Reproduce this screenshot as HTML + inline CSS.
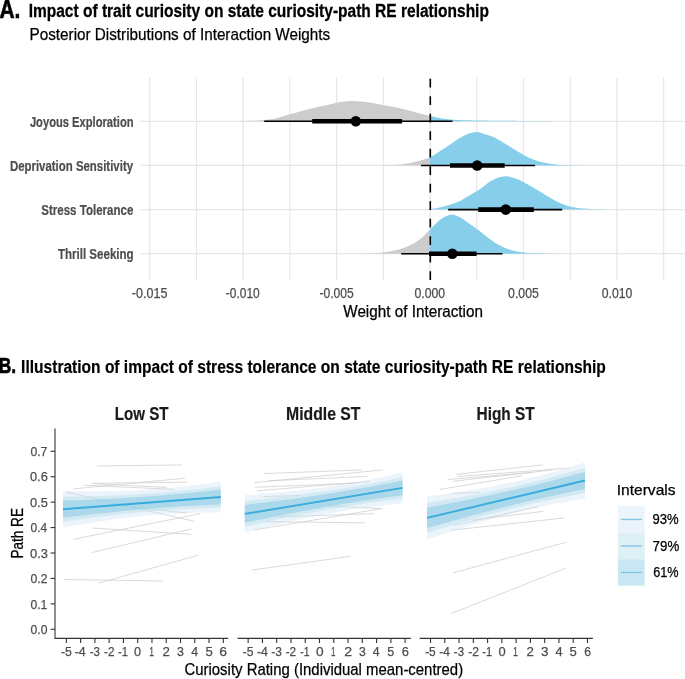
<!DOCTYPE html>
<html><head><meta charset="utf-8"><style>
html,body{margin:0;padding:0;background:#fff;}
svg{display:block;filter:blur(0.35px);font-family:"Liberation Sans", sans-serif;}
</style></head><body>
<svg width="685" height="679" viewBox="0 0 685 679">
<rect width="685" height="679" fill="#fff"/>
<text x="-0.50" y="17.50" font-size="25.0" font-weight="bold" fill="#000" text-anchor="start" stroke="#000" stroke-width="0.6" textLength="20.90" lengthAdjust="spacingAndGlyphs" >A.</text>
<text x="28.64" y="17.20" font-size="19.1" font-weight="bold" fill="#000" text-anchor="start" stroke="#000" stroke-width="0.3" textLength="460.27" lengthAdjust="spacingAndGlyphs" >Impact of trait curiosity on state curiosity-path RE relationship</text>
<text x="29.59" y="39.90" font-size="17.0" font-weight="normal" fill="#000" text-anchor="start" stroke="#000" stroke-width="0.25" textLength="300.61" lengthAdjust="spacingAndGlyphs" >Posterior Distributions of Interaction Weights</text>
<line x1="149.70" y1="77.6" x2="149.70" y2="280.0" stroke="#E6E6E6" stroke-width="1.3"/>
<line x1="196.43" y1="77.6" x2="196.43" y2="280.0" stroke="#E6E6E6" stroke-width="1.1"/>
<line x1="243.15" y1="77.6" x2="243.15" y2="280.0" stroke="#E6E6E6" stroke-width="1.3"/>
<line x1="289.88" y1="77.6" x2="289.88" y2="280.0" stroke="#E6E6E6" stroke-width="1.1"/>
<line x1="336.60" y1="77.6" x2="336.60" y2="280.0" stroke="#E6E6E6" stroke-width="1.3"/>
<line x1="383.32" y1="77.6" x2="383.32" y2="280.0" stroke="#E6E6E6" stroke-width="1.1"/>
<line x1="430.05" y1="77.6" x2="430.05" y2="280.0" stroke="#E6E6E6" stroke-width="1.3"/>
<line x1="476.78" y1="77.6" x2="476.78" y2="280.0" stroke="#E6E6E6" stroke-width="1.1"/>
<line x1="523.50" y1="77.6" x2="523.50" y2="280.0" stroke="#E6E6E6" stroke-width="1.3"/>
<line x1="570.23" y1="77.6" x2="570.23" y2="280.0" stroke="#E6E6E6" stroke-width="1.1"/>
<line x1="616.95" y1="77.6" x2="616.95" y2="280.0" stroke="#E6E6E6" stroke-width="1.3"/>
<line x1="663.67" y1="77.6" x2="663.67" y2="280.0" stroke="#E6E6E6" stroke-width="1.1"/>
<line x1="140.5" y1="121.3" x2="685.5" y2="121.3" stroke="#E6E6E6" stroke-width="1.3"/>
<line x1="140.5" y1="165.45" x2="685.5" y2="165.45" stroke="#E6E6E6" stroke-width="1.3"/>
<line x1="140.5" y1="209.6" x2="685.5" y2="209.6" stroke="#E6E6E6" stroke-width="1.3"/>
<line x1="140.5" y1="253.7" x2="685.5" y2="253.7" stroke="#E6E6E6" stroke-width="1.3"/>
<defs>
<clipPath id="cl"><rect x="0" y="0" width="430.05" height="300"/></clipPath>
<clipPath id="cr"><rect x="430.05" y="0" width="400" height="300"/></clipPath>
</defs>
<path d="M230.00,121.30 L230.00,121.30 L230.50,121.30 L231.00,121.30 L231.50,121.29 L232.00,121.29 L232.50,121.28 L233.00,121.28 L233.50,121.27 L234.00,121.27 L234.50,121.26 L235.00,121.25 L235.50,121.24 L236.00,121.23 L236.50,121.22 L237.00,121.21 L237.50,121.20 L238.00,121.19 L238.50,121.18 L239.00,121.16 L239.50,121.15 L240.00,121.14 L240.50,121.12 L241.00,121.11 L241.50,121.09 L242.00,121.08 L242.50,121.06 L243.00,121.05 L243.50,121.03 L244.00,121.01 L244.50,121.00 L245.00,120.98 L245.50,120.96 L246.00,120.94 L246.50,120.93 L247.00,120.91 L247.50,120.89 L248.00,120.87 L248.50,120.86 L249.00,120.84 L249.50,120.82 L250.00,120.80 L250.50,120.78 L251.00,120.76 L251.50,120.74 L252.00,120.72 L252.50,120.70 L253.00,120.68 L253.50,120.65 L254.00,120.63 L254.50,120.61 L255.00,120.58 L255.50,120.55 L256.00,120.53 L256.50,120.50 L257.00,120.47 L257.50,120.44 L258.00,120.41 L258.50,120.38 L259.00,120.35 L259.50,120.32 L260.00,120.28 L260.50,120.25 L261.00,120.21 L261.50,120.18 L262.00,120.14 L262.50,120.10 L263.00,120.06 L263.50,120.02 L264.00,119.98 L264.50,119.94 L265.00,119.89 L265.50,119.85 L266.00,119.80 L266.50,119.76 L267.00,119.71 L267.50,119.66 L268.00,119.61 L268.50,119.56 L269.00,119.51 L269.50,119.45 L270.00,119.40 L270.50,119.34 L271.00,119.28 L271.50,119.20 L272.00,119.13 L272.50,119.04 L273.00,118.95 L273.50,118.86 L274.00,118.76 L274.50,118.65 L275.00,118.54 L275.50,118.43 L276.00,118.31 L276.50,118.19 L277.00,118.06 L277.50,117.93 L278.00,117.80 L278.50,117.66 L279.00,117.52 L279.50,117.38 L280.00,117.24 L280.50,117.09 L281.00,116.94 L281.50,116.80 L282.00,116.65 L282.50,116.50 L283.00,116.34 L283.50,116.19 L284.00,116.04 L284.50,115.89 L285.00,115.74 L285.50,115.59 L286.00,115.44 L286.50,115.29 L287.00,115.14 L287.50,115.00 L288.00,114.85 L288.50,114.71 L289.00,114.57 L289.50,114.43 L290.00,114.30 L290.50,114.17 L291.00,114.03 L291.50,113.90 L292.00,113.76 L292.50,113.62 L293.00,113.49 L293.50,113.35 L294.00,113.21 L294.50,113.07 L295.00,112.93 L295.50,112.78 L296.00,112.64 L296.50,112.50 L297.00,112.36 L297.50,112.21 L298.00,112.07 L298.50,111.93 L299.00,111.79 L299.50,111.64 L300.00,111.50 L300.50,111.36 L301.00,111.21 L301.50,111.07 L302.00,110.93 L302.50,110.79 L303.00,110.65 L303.50,110.51 L304.00,110.37 L304.50,110.24 L305.00,110.10 L305.50,109.96 L306.00,109.83 L306.50,109.69 L307.00,109.56 L307.50,109.43 L308.00,109.30 L308.50,109.17 L309.00,109.05 L309.50,108.92 L310.00,108.80 L310.50,108.68 L311.00,108.56 L311.50,108.44 L312.00,108.32 L312.50,108.20 L313.00,108.09 L313.50,107.97 L314.00,107.86 L314.50,107.75 L315.00,107.64 L315.50,107.53 L316.00,107.41 L316.50,107.31 L317.00,107.20 L317.50,107.09 L318.00,106.98 L318.50,106.87 L319.00,106.77 L319.50,106.66 L320.00,106.55 L320.50,106.45 L321.00,106.34 L321.50,106.23 L322.00,106.13 L322.50,106.02 L323.00,105.92 L323.50,105.81 L324.00,105.71 L324.50,105.60 L325.00,105.49 L325.50,105.39 L326.00,105.28 L326.50,105.17 L327.00,105.06 L327.50,104.95 L328.00,104.84 L328.50,104.73 L329.00,104.62 L329.50,104.51 L330.00,104.40 L330.50,104.28 L331.00,104.16 L331.50,104.04 L332.00,103.91 L332.50,103.78 L333.00,103.65 L333.50,103.52 L334.00,103.38 L334.50,103.25 L335.00,103.12 L335.50,103.00 L336.00,102.87 L336.50,102.75 L337.00,102.64 L337.50,102.53 L338.00,102.43 L338.50,102.33 L339.00,102.24 L339.50,102.17 L340.00,102.10 L340.50,102.04 L341.00,101.98 L341.50,101.91 L342.00,101.85 L342.50,101.79 L343.00,101.73 L343.50,101.68 L344.00,101.62 L344.50,101.57 L345.00,101.51 L345.50,101.46 L346.00,101.41 L346.50,101.37 L347.00,101.33 L347.50,101.29 L348.00,101.25 L348.50,101.22 L349.00,101.19 L349.50,101.16 L350.00,101.14 L350.50,101.12 L351.00,101.11 L351.50,101.10 L352.00,101.10 L352.50,101.10 L353.00,101.11 L353.50,101.12 L354.00,101.13 L354.50,101.14 L355.00,101.16 L355.50,101.18 L356.00,101.20 L356.50,101.23 L357.00,101.26 L357.50,101.29 L358.00,101.32 L358.50,101.35 L359.00,101.39 L359.50,101.43 L360.00,101.47 L360.50,101.51 L361.00,101.55 L361.50,101.59 L362.00,101.63 L362.50,101.68 L363.00,101.72 L363.50,101.77 L364.00,101.81 L364.50,101.86 L365.00,101.90 L365.50,101.95 L366.00,102.00 L366.50,102.06 L367.00,102.12 L367.50,102.19 L368.00,102.26 L368.50,102.33 L369.00,102.41 L369.50,102.49 L370.00,102.57 L370.50,102.66 L371.00,102.75 L371.50,102.84 L372.00,102.93 L372.50,103.03 L373.00,103.13 L373.50,103.22 L374.00,103.32 L374.50,103.42 L375.00,103.52 L375.50,103.62 L376.00,103.73 L376.50,103.83 L377.00,103.93 L377.50,104.02 L378.00,104.12 L378.50,104.22 L379.00,104.31 L379.50,104.41 L380.00,104.50 L380.50,104.59 L381.00,104.68 L381.50,104.77 L382.00,104.86 L382.50,104.95 L383.00,105.04 L383.50,105.13 L384.00,105.22 L384.50,105.31 L385.00,105.40 L385.50,105.49 L386.00,105.58 L386.50,105.67 L387.00,105.76 L387.50,105.85 L388.00,105.94 L388.50,106.03 L389.00,106.12 L389.50,106.22 L390.00,106.31 L390.50,106.40 L391.00,106.49 L391.50,106.59 L392.00,106.68 L392.50,106.78 L393.00,106.87 L393.50,106.97 L394.00,107.07 L394.50,107.16 L395.00,107.26 L395.50,107.36 L396.00,107.46 L396.50,107.56 L397.00,107.67 L397.50,107.77 L398.00,107.87 L398.50,107.98 L399.00,108.08 L399.50,108.19 L400.00,108.30 L400.50,108.41 L401.00,108.52 L401.50,108.63 L402.00,108.75 L402.50,108.87 L403.00,108.99 L403.50,109.11 L404.00,109.23 L404.50,109.35 L405.00,109.47 L405.50,109.60 L406.00,109.72 L406.50,109.85 L407.00,109.98 L407.50,110.11 L408.00,110.24 L408.50,110.37 L409.00,110.50 L409.50,110.63 L410.00,110.76 L410.50,110.90 L411.00,111.03 L411.50,111.16 L412.00,111.30 L412.50,111.43 L413.00,111.56 L413.50,111.70 L414.00,111.83 L414.50,111.96 L415.00,112.10 L415.50,112.23 L416.00,112.36 L416.50,112.50 L417.00,112.63 L417.50,112.76 L418.00,112.89 L418.50,113.02 L419.00,113.15 L419.50,113.27 L420.00,113.40 L420.50,113.53 L421.00,113.65 L421.50,113.78 L422.00,113.91 L422.50,114.04 L423.00,114.17 L423.50,114.30 L424.00,114.43 L424.50,114.56 L425.00,114.69 L425.50,114.81 L426.00,114.94 L426.50,115.07 L427.00,115.19 L427.50,115.31 L428.00,115.43 L428.50,115.55 L429.00,115.67 L429.50,115.79 L430.00,115.90 L430.50,116.01 L431.00,116.13 L431.50,116.24 L432.00,116.36 L432.50,116.47 L433.00,116.59 L433.50,116.70 L434.00,116.82 L434.50,116.93 L435.00,117.05 L435.50,117.16 L436.00,117.28 L436.50,117.39 L437.00,117.50 L437.50,117.61 L438.00,117.71 L438.50,117.82 L439.00,117.92 L439.50,118.02 L440.00,118.12 L440.50,118.21 L441.00,118.30 L441.50,118.39 L442.00,118.48 L442.50,118.56 L443.00,118.63 L443.50,118.71 L444.00,118.78 L444.50,118.84 L445.00,118.90 L445.50,118.96 L446.00,119.01 L446.50,119.07 L447.00,119.12 L447.50,119.18 L448.00,119.23 L448.50,119.28 L449.00,119.33 L449.50,119.38 L450.00,119.43 L450.50,119.48 L451.00,119.52 L451.50,119.57 L452.00,119.61 L452.50,119.65 L453.00,119.69 L453.50,119.73 L454.00,119.77 L454.50,119.81 L455.00,119.84 L455.50,119.88 L456.00,119.91 L456.50,119.94 L457.00,119.97 L457.50,119.99 L458.00,120.02 L458.50,120.04 L459.00,120.06 L459.50,120.08 L460.00,120.10 L460.50,120.12 L461.00,120.13 L461.50,120.15 L462.00,120.16 L462.50,120.18 L463.00,120.19 L463.50,120.20 L464.00,120.22 L464.50,120.23 L465.00,120.24 L465.50,120.25 L466.00,120.26 L466.50,120.27 L467.00,120.29 L467.50,120.30 L468.00,120.31 L468.50,120.32 L469.00,120.33 L469.50,120.33 L470.00,120.34 L470.50,120.35 L471.00,120.36 L471.50,120.37 L472.00,120.38 L472.50,120.39 L473.00,120.39 L473.50,120.40 L474.00,120.41 L474.50,120.42 L475.00,120.43 L475.50,120.43 L476.00,120.44 L476.50,120.45 L477.00,120.45 L477.50,120.46 L478.00,120.47 L478.50,120.48 L479.00,120.48 L479.50,120.49 L480.00,120.50 L480.50,120.51 L481.00,120.52 L481.50,120.52 L482.00,120.53 L482.50,120.54 L483.00,120.54 L483.50,120.55 L484.00,120.56 L484.50,120.57 L485.00,120.57 L485.50,120.58 L486.00,120.59 L486.50,120.59 L487.00,120.60 L487.50,120.61 L488.00,120.61 L488.50,120.62 L489.00,120.63 L489.50,120.63 L490.00,120.64 L490.50,120.65 L491.00,120.65 L491.50,120.66 L492.00,120.66 L492.50,120.67 L493.00,120.68 L493.50,120.68 L494.00,120.69 L494.50,120.69 L495.00,120.70 L495.50,120.70 L496.00,120.71 L496.50,120.72 L497.00,120.72 L497.50,120.73 L498.00,120.73 L498.50,120.74 L499.00,120.74 L499.50,120.75 L500.00,120.75 L500.50,120.75 L501.00,120.76 L501.50,120.76 L502.00,120.77 L502.50,120.77 L503.00,120.78 L503.50,120.78 L504.00,120.78 L504.50,120.79 L505.00,120.79 L505.50,120.80 L506.00,120.80 L506.50,120.80 L507.00,120.81 L507.50,120.81 L508.00,120.82 L508.50,120.82 L509.00,120.82 L509.50,120.83 L510.00,120.83 L510.50,120.83 L511.00,120.84 L511.50,120.84 L512.00,120.84 L512.50,120.85 L513.00,120.85 L513.50,120.85 L514.00,120.86 L514.50,120.86 L515.00,120.86 L515.50,120.87 L516.00,120.87 L516.50,120.87 L517.00,120.88 L517.50,120.88 L518.00,120.89 L518.50,120.89 L519.00,120.89 L519.50,120.90 L520.00,120.90 L520.50,120.90 L521.00,120.91 L521.50,120.91 L522.00,120.92 L522.50,120.92 L523.00,120.92 L523.50,120.93 L524.00,120.93 L524.50,120.93 L525.00,120.94 L525.50,120.94 L526.00,120.95 L526.50,120.95 L527.00,120.95 L527.50,120.96 L528.00,120.96 L528.50,120.96 L529.00,120.97 L529.50,120.97 L530.00,120.98 L530.50,120.98 L531.00,120.98 L531.50,120.99 L532.00,120.99 L532.50,121.00 L533.00,121.00 L533.50,121.00 L534.00,121.01 L534.50,121.01 L535.00,121.01 L535.50,121.02 L536.00,121.02 L536.50,121.03 L537.00,121.03 L537.50,121.03 L538.00,121.04 L538.50,121.04 L539.00,121.04 L539.50,121.05 L540.00,121.05 L540.50,121.05 L541.00,121.06 L541.50,121.06 L542.00,121.06 L542.50,121.07 L543.00,121.07 L543.50,121.07 L544.00,121.08 L544.50,121.08 L545.00,121.08 L545.50,121.09 L546.00,121.09 L546.50,121.09 L547.00,121.10 L547.50,121.10 L548.00,121.10 L548.50,121.11 L549.00,121.11 L549.50,121.11 L550.00,121.12 L550.50,121.12 L551.00,121.12 L551.50,121.13 L552.00,121.13 L552.50,121.13 L553.00,121.14 L553.50,121.14 L554.00,121.14 L554.50,121.15 L555.00,121.15 L555.50,121.15 L556.00,121.15 L556.50,121.16 L557.00,121.16 L557.50,121.16 L558.00,121.17 L558.50,121.17 L559.00,121.17 L559.50,121.18 L560.00,121.18 L560.50,121.18 L561.00,121.19 L561.50,121.19 L562.00,121.19 L562.50,121.20 L563.00,121.20 L563.50,121.20 L564.00,121.20 L564.50,121.21 L565.00,121.21 L565.50,121.21 L566.00,121.22 L566.50,121.22 L567.00,121.22 L567.50,121.23 L568.00,121.23 L568.50,121.23 L569.00,121.24 L569.50,121.24 L570.00,121.24 L570.50,121.24 L571.00,121.25 L571.50,121.25 L572.00,121.25 L572.50,121.26 L573.00,121.26 L573.50,121.26 L574.00,121.27 L574.50,121.27 L575.00,121.27 L575.50,121.27 L576.00,121.28 L576.50,121.28 L577.00,121.28 L577.50,121.29 L578.00,121.29 L578.50,121.29 L579.00,121.29 L579.50,121.30 L580.00,121.30 L580.00,121.30 Z" fill="#CCCCCC" clip-path="url(#cl)"/>
<path d="M230.00,121.30 L230.00,121.30 L230.50,121.30 L231.00,121.30 L231.50,121.29 L232.00,121.29 L232.50,121.28 L233.00,121.28 L233.50,121.27 L234.00,121.27 L234.50,121.26 L235.00,121.25 L235.50,121.24 L236.00,121.23 L236.50,121.22 L237.00,121.21 L237.50,121.20 L238.00,121.19 L238.50,121.18 L239.00,121.16 L239.50,121.15 L240.00,121.14 L240.50,121.12 L241.00,121.11 L241.50,121.09 L242.00,121.08 L242.50,121.06 L243.00,121.05 L243.50,121.03 L244.00,121.01 L244.50,121.00 L245.00,120.98 L245.50,120.96 L246.00,120.94 L246.50,120.93 L247.00,120.91 L247.50,120.89 L248.00,120.87 L248.50,120.86 L249.00,120.84 L249.50,120.82 L250.00,120.80 L250.50,120.78 L251.00,120.76 L251.50,120.74 L252.00,120.72 L252.50,120.70 L253.00,120.68 L253.50,120.65 L254.00,120.63 L254.50,120.61 L255.00,120.58 L255.50,120.55 L256.00,120.53 L256.50,120.50 L257.00,120.47 L257.50,120.44 L258.00,120.41 L258.50,120.38 L259.00,120.35 L259.50,120.32 L260.00,120.28 L260.50,120.25 L261.00,120.21 L261.50,120.18 L262.00,120.14 L262.50,120.10 L263.00,120.06 L263.50,120.02 L264.00,119.98 L264.50,119.94 L265.00,119.89 L265.50,119.85 L266.00,119.80 L266.50,119.76 L267.00,119.71 L267.50,119.66 L268.00,119.61 L268.50,119.56 L269.00,119.51 L269.50,119.45 L270.00,119.40 L270.50,119.34 L271.00,119.28 L271.50,119.20 L272.00,119.13 L272.50,119.04 L273.00,118.95 L273.50,118.86 L274.00,118.76 L274.50,118.65 L275.00,118.54 L275.50,118.43 L276.00,118.31 L276.50,118.19 L277.00,118.06 L277.50,117.93 L278.00,117.80 L278.50,117.66 L279.00,117.52 L279.50,117.38 L280.00,117.24 L280.50,117.09 L281.00,116.94 L281.50,116.80 L282.00,116.65 L282.50,116.50 L283.00,116.34 L283.50,116.19 L284.00,116.04 L284.50,115.89 L285.00,115.74 L285.50,115.59 L286.00,115.44 L286.50,115.29 L287.00,115.14 L287.50,115.00 L288.00,114.85 L288.50,114.71 L289.00,114.57 L289.50,114.43 L290.00,114.30 L290.50,114.17 L291.00,114.03 L291.50,113.90 L292.00,113.76 L292.50,113.62 L293.00,113.49 L293.50,113.35 L294.00,113.21 L294.50,113.07 L295.00,112.93 L295.50,112.78 L296.00,112.64 L296.50,112.50 L297.00,112.36 L297.50,112.21 L298.00,112.07 L298.50,111.93 L299.00,111.79 L299.50,111.64 L300.00,111.50 L300.50,111.36 L301.00,111.21 L301.50,111.07 L302.00,110.93 L302.50,110.79 L303.00,110.65 L303.50,110.51 L304.00,110.37 L304.50,110.24 L305.00,110.10 L305.50,109.96 L306.00,109.83 L306.50,109.69 L307.00,109.56 L307.50,109.43 L308.00,109.30 L308.50,109.17 L309.00,109.05 L309.50,108.92 L310.00,108.80 L310.50,108.68 L311.00,108.56 L311.50,108.44 L312.00,108.32 L312.50,108.20 L313.00,108.09 L313.50,107.97 L314.00,107.86 L314.50,107.75 L315.00,107.64 L315.50,107.53 L316.00,107.41 L316.50,107.31 L317.00,107.20 L317.50,107.09 L318.00,106.98 L318.50,106.87 L319.00,106.77 L319.50,106.66 L320.00,106.55 L320.50,106.45 L321.00,106.34 L321.50,106.23 L322.00,106.13 L322.50,106.02 L323.00,105.92 L323.50,105.81 L324.00,105.71 L324.50,105.60 L325.00,105.49 L325.50,105.39 L326.00,105.28 L326.50,105.17 L327.00,105.06 L327.50,104.95 L328.00,104.84 L328.50,104.73 L329.00,104.62 L329.50,104.51 L330.00,104.40 L330.50,104.28 L331.00,104.16 L331.50,104.04 L332.00,103.91 L332.50,103.78 L333.00,103.65 L333.50,103.52 L334.00,103.38 L334.50,103.25 L335.00,103.12 L335.50,103.00 L336.00,102.87 L336.50,102.75 L337.00,102.64 L337.50,102.53 L338.00,102.43 L338.50,102.33 L339.00,102.24 L339.50,102.17 L340.00,102.10 L340.50,102.04 L341.00,101.98 L341.50,101.91 L342.00,101.85 L342.50,101.79 L343.00,101.73 L343.50,101.68 L344.00,101.62 L344.50,101.57 L345.00,101.51 L345.50,101.46 L346.00,101.41 L346.50,101.37 L347.00,101.33 L347.50,101.29 L348.00,101.25 L348.50,101.22 L349.00,101.19 L349.50,101.16 L350.00,101.14 L350.50,101.12 L351.00,101.11 L351.50,101.10 L352.00,101.10 L352.50,101.10 L353.00,101.11 L353.50,101.12 L354.00,101.13 L354.50,101.14 L355.00,101.16 L355.50,101.18 L356.00,101.20 L356.50,101.23 L357.00,101.26 L357.50,101.29 L358.00,101.32 L358.50,101.35 L359.00,101.39 L359.50,101.43 L360.00,101.47 L360.50,101.51 L361.00,101.55 L361.50,101.59 L362.00,101.63 L362.50,101.68 L363.00,101.72 L363.50,101.77 L364.00,101.81 L364.50,101.86 L365.00,101.90 L365.50,101.95 L366.00,102.00 L366.50,102.06 L367.00,102.12 L367.50,102.19 L368.00,102.26 L368.50,102.33 L369.00,102.41 L369.50,102.49 L370.00,102.57 L370.50,102.66 L371.00,102.75 L371.50,102.84 L372.00,102.93 L372.50,103.03 L373.00,103.13 L373.50,103.22 L374.00,103.32 L374.50,103.42 L375.00,103.52 L375.50,103.62 L376.00,103.73 L376.50,103.83 L377.00,103.93 L377.50,104.02 L378.00,104.12 L378.50,104.22 L379.00,104.31 L379.50,104.41 L380.00,104.50 L380.50,104.59 L381.00,104.68 L381.50,104.77 L382.00,104.86 L382.50,104.95 L383.00,105.04 L383.50,105.13 L384.00,105.22 L384.50,105.31 L385.00,105.40 L385.50,105.49 L386.00,105.58 L386.50,105.67 L387.00,105.76 L387.50,105.85 L388.00,105.94 L388.50,106.03 L389.00,106.12 L389.50,106.22 L390.00,106.31 L390.50,106.40 L391.00,106.49 L391.50,106.59 L392.00,106.68 L392.50,106.78 L393.00,106.87 L393.50,106.97 L394.00,107.07 L394.50,107.16 L395.00,107.26 L395.50,107.36 L396.00,107.46 L396.50,107.56 L397.00,107.67 L397.50,107.77 L398.00,107.87 L398.50,107.98 L399.00,108.08 L399.50,108.19 L400.00,108.30 L400.50,108.41 L401.00,108.52 L401.50,108.63 L402.00,108.75 L402.50,108.87 L403.00,108.99 L403.50,109.11 L404.00,109.23 L404.50,109.35 L405.00,109.47 L405.50,109.60 L406.00,109.72 L406.50,109.85 L407.00,109.98 L407.50,110.11 L408.00,110.24 L408.50,110.37 L409.00,110.50 L409.50,110.63 L410.00,110.76 L410.50,110.90 L411.00,111.03 L411.50,111.16 L412.00,111.30 L412.50,111.43 L413.00,111.56 L413.50,111.70 L414.00,111.83 L414.50,111.96 L415.00,112.10 L415.50,112.23 L416.00,112.36 L416.50,112.50 L417.00,112.63 L417.50,112.76 L418.00,112.89 L418.50,113.02 L419.00,113.15 L419.50,113.27 L420.00,113.40 L420.50,113.53 L421.00,113.65 L421.50,113.78 L422.00,113.91 L422.50,114.04 L423.00,114.17 L423.50,114.30 L424.00,114.43 L424.50,114.56 L425.00,114.69 L425.50,114.81 L426.00,114.94 L426.50,115.07 L427.00,115.19 L427.50,115.31 L428.00,115.43 L428.50,115.55 L429.00,115.67 L429.50,115.79 L430.00,115.90 L430.50,116.01 L431.00,116.13 L431.50,116.24 L432.00,116.36 L432.50,116.47 L433.00,116.59 L433.50,116.70 L434.00,116.82 L434.50,116.93 L435.00,117.05 L435.50,117.16 L436.00,117.28 L436.50,117.39 L437.00,117.50 L437.50,117.61 L438.00,117.71 L438.50,117.82 L439.00,117.92 L439.50,118.02 L440.00,118.12 L440.50,118.21 L441.00,118.30 L441.50,118.39 L442.00,118.48 L442.50,118.56 L443.00,118.63 L443.50,118.71 L444.00,118.78 L444.50,118.84 L445.00,118.90 L445.50,118.96 L446.00,119.01 L446.50,119.07 L447.00,119.12 L447.50,119.18 L448.00,119.23 L448.50,119.28 L449.00,119.33 L449.50,119.38 L450.00,119.43 L450.50,119.48 L451.00,119.52 L451.50,119.57 L452.00,119.61 L452.50,119.65 L453.00,119.69 L453.50,119.73 L454.00,119.77 L454.50,119.81 L455.00,119.84 L455.50,119.88 L456.00,119.91 L456.50,119.94 L457.00,119.97 L457.50,119.99 L458.00,120.02 L458.50,120.04 L459.00,120.06 L459.50,120.08 L460.00,120.10 L460.50,120.12 L461.00,120.13 L461.50,120.15 L462.00,120.16 L462.50,120.18 L463.00,120.19 L463.50,120.20 L464.00,120.22 L464.50,120.23 L465.00,120.24 L465.50,120.25 L466.00,120.26 L466.50,120.27 L467.00,120.29 L467.50,120.30 L468.00,120.31 L468.50,120.32 L469.00,120.33 L469.50,120.33 L470.00,120.34 L470.50,120.35 L471.00,120.36 L471.50,120.37 L472.00,120.38 L472.50,120.39 L473.00,120.39 L473.50,120.40 L474.00,120.41 L474.50,120.42 L475.00,120.43 L475.50,120.43 L476.00,120.44 L476.50,120.45 L477.00,120.45 L477.50,120.46 L478.00,120.47 L478.50,120.48 L479.00,120.48 L479.50,120.49 L480.00,120.50 L480.50,120.51 L481.00,120.52 L481.50,120.52 L482.00,120.53 L482.50,120.54 L483.00,120.54 L483.50,120.55 L484.00,120.56 L484.50,120.57 L485.00,120.57 L485.50,120.58 L486.00,120.59 L486.50,120.59 L487.00,120.60 L487.50,120.61 L488.00,120.61 L488.50,120.62 L489.00,120.63 L489.50,120.63 L490.00,120.64 L490.50,120.65 L491.00,120.65 L491.50,120.66 L492.00,120.66 L492.50,120.67 L493.00,120.68 L493.50,120.68 L494.00,120.69 L494.50,120.69 L495.00,120.70 L495.50,120.70 L496.00,120.71 L496.50,120.72 L497.00,120.72 L497.50,120.73 L498.00,120.73 L498.50,120.74 L499.00,120.74 L499.50,120.75 L500.00,120.75 L500.50,120.75 L501.00,120.76 L501.50,120.76 L502.00,120.77 L502.50,120.77 L503.00,120.78 L503.50,120.78 L504.00,120.78 L504.50,120.79 L505.00,120.79 L505.50,120.80 L506.00,120.80 L506.50,120.80 L507.00,120.81 L507.50,120.81 L508.00,120.82 L508.50,120.82 L509.00,120.82 L509.50,120.83 L510.00,120.83 L510.50,120.83 L511.00,120.84 L511.50,120.84 L512.00,120.84 L512.50,120.85 L513.00,120.85 L513.50,120.85 L514.00,120.86 L514.50,120.86 L515.00,120.86 L515.50,120.87 L516.00,120.87 L516.50,120.87 L517.00,120.88 L517.50,120.88 L518.00,120.89 L518.50,120.89 L519.00,120.89 L519.50,120.90 L520.00,120.90 L520.50,120.90 L521.00,120.91 L521.50,120.91 L522.00,120.92 L522.50,120.92 L523.00,120.92 L523.50,120.93 L524.00,120.93 L524.50,120.93 L525.00,120.94 L525.50,120.94 L526.00,120.95 L526.50,120.95 L527.00,120.95 L527.50,120.96 L528.00,120.96 L528.50,120.96 L529.00,120.97 L529.50,120.97 L530.00,120.98 L530.50,120.98 L531.00,120.98 L531.50,120.99 L532.00,120.99 L532.50,121.00 L533.00,121.00 L533.50,121.00 L534.00,121.01 L534.50,121.01 L535.00,121.01 L535.50,121.02 L536.00,121.02 L536.50,121.03 L537.00,121.03 L537.50,121.03 L538.00,121.04 L538.50,121.04 L539.00,121.04 L539.50,121.05 L540.00,121.05 L540.50,121.05 L541.00,121.06 L541.50,121.06 L542.00,121.06 L542.50,121.07 L543.00,121.07 L543.50,121.07 L544.00,121.08 L544.50,121.08 L545.00,121.08 L545.50,121.09 L546.00,121.09 L546.50,121.09 L547.00,121.10 L547.50,121.10 L548.00,121.10 L548.50,121.11 L549.00,121.11 L549.50,121.11 L550.00,121.12 L550.50,121.12 L551.00,121.12 L551.50,121.13 L552.00,121.13 L552.50,121.13 L553.00,121.14 L553.50,121.14 L554.00,121.14 L554.50,121.15 L555.00,121.15 L555.50,121.15 L556.00,121.15 L556.50,121.16 L557.00,121.16 L557.50,121.16 L558.00,121.17 L558.50,121.17 L559.00,121.17 L559.50,121.18 L560.00,121.18 L560.50,121.18 L561.00,121.19 L561.50,121.19 L562.00,121.19 L562.50,121.20 L563.00,121.20 L563.50,121.20 L564.00,121.20 L564.50,121.21 L565.00,121.21 L565.50,121.21 L566.00,121.22 L566.50,121.22 L567.00,121.22 L567.50,121.23 L568.00,121.23 L568.50,121.23 L569.00,121.24 L569.50,121.24 L570.00,121.24 L570.50,121.24 L571.00,121.25 L571.50,121.25 L572.00,121.25 L572.50,121.26 L573.00,121.26 L573.50,121.26 L574.00,121.27 L574.50,121.27 L575.00,121.27 L575.50,121.27 L576.00,121.28 L576.50,121.28 L577.00,121.28 L577.50,121.29 L578.00,121.29 L578.50,121.29 L579.00,121.29 L579.50,121.30 L580.00,121.30 L580.00,121.30 Z" fill="#87CEEB" clip-path="url(#cr)"/>
<path d="M380.00,165.45 L380.00,165.45 L380.50,165.44 L381.00,165.43 L381.50,165.42 L382.00,165.41 L382.50,165.40 L383.00,165.39 L383.50,165.38 L384.00,165.36 L384.50,165.35 L385.00,165.33 L385.50,165.32 L386.00,165.30 L386.50,165.28 L387.00,165.26 L387.50,165.25 L388.00,165.23 L388.50,165.21 L389.00,165.19 L389.50,165.17 L390.00,165.15 L390.50,165.13 L391.00,165.11 L391.50,165.09 L392.00,165.06 L392.50,165.04 L393.00,165.02 L393.50,164.99 L394.00,164.96 L394.50,164.94 L395.00,164.91 L395.50,164.88 L396.00,164.85 L396.50,164.81 L397.00,164.78 L397.50,164.75 L398.00,164.71 L398.50,164.67 L399.00,164.63 L399.50,164.59 L400.00,164.55 L400.50,164.50 L401.00,164.46 L401.50,164.40 L402.00,164.34 L402.50,164.28 L403.00,164.22 L403.50,164.15 L404.00,164.08 L404.50,164.00 L405.00,163.92 L405.50,163.84 L406.00,163.76 L406.50,163.68 L407.00,163.59 L407.50,163.50 L408.00,163.41 L408.50,163.32 L409.00,163.23 L409.50,163.14 L410.00,163.05 L410.50,162.96 L411.00,162.86 L411.50,162.76 L412.00,162.65 L412.50,162.55 L413.00,162.44 L413.50,162.32 L414.00,162.21 L414.50,162.09 L415.00,161.97 L415.50,161.85 L416.00,161.72 L416.50,161.60 L417.00,161.47 L417.50,161.33 L418.00,161.20 L418.50,161.07 L419.00,160.93 L419.50,160.79 L420.00,160.65 L420.50,160.51 L421.00,160.37 L421.50,160.22 L422.00,160.08 L422.50,159.93 L423.00,159.78 L423.50,159.62 L424.00,159.47 L424.50,159.31 L425.00,159.14 L425.50,158.98 L426.00,158.81 L426.50,158.63 L427.00,158.45 L427.50,158.26 L428.00,158.07 L428.50,157.88 L429.00,157.67 L429.50,157.46 L430.00,157.25 L430.50,157.02 L431.00,156.78 L431.50,156.53 L432.00,156.26 L432.50,155.98 L433.00,155.69 L433.50,155.39 L434.00,155.08 L434.50,154.77 L435.00,154.45 L435.50,154.12 L436.00,153.79 L436.50,153.46 L437.00,153.12 L437.50,152.79 L438.00,152.46 L438.50,152.12 L439.00,151.80 L439.50,151.47 L440.00,151.15 L440.50,150.83 L441.00,150.51 L441.50,150.19 L442.00,149.86 L442.50,149.54 L443.00,149.21 L443.50,148.88 L444.00,148.55 L444.50,148.22 L445.00,147.88 L445.50,147.55 L446.00,147.21 L446.50,146.88 L447.00,146.55 L447.50,146.21 L448.00,145.88 L448.50,145.54 L449.00,145.21 L449.50,144.88 L450.00,144.55 L450.50,144.22 L451.00,143.88 L451.50,143.54 L452.00,143.20 L452.50,142.85 L453.00,142.50 L453.50,142.16 L454.00,141.81 L454.50,141.46 L455.00,141.12 L455.50,140.78 L456.00,140.44 L456.50,140.11 L457.00,139.78 L457.50,139.45 L458.00,139.14 L458.50,138.83 L459.00,138.53 L459.50,138.23 L460.00,137.95 L460.50,137.67 L461.00,137.39 L461.50,137.10 L462.00,136.81 L462.50,136.53 L463.00,136.24 L463.50,135.96 L464.00,135.68 L464.50,135.41 L465.00,135.14 L465.50,134.89 L466.00,134.64 L466.50,134.40 L467.00,134.17 L467.50,133.96 L468.00,133.77 L468.50,133.58 L469.00,133.42 L469.50,133.28 L470.00,133.15 L470.50,133.03 L471.00,132.92 L471.50,132.81 L472.00,132.70 L472.50,132.59 L473.00,132.49 L473.50,132.40 L474.00,132.31 L474.50,132.24 L475.00,132.17 L475.50,132.12 L476.00,132.08 L476.50,132.06 L477.00,132.05 L477.50,132.07 L478.00,132.11 L478.50,132.19 L479.00,132.28 L479.50,132.40 L480.00,132.54 L480.50,132.69 L481.00,132.86 L481.50,133.03 L482.00,133.21 L482.50,133.39 L483.00,133.58 L483.50,133.76 L484.00,133.93 L484.50,134.10 L485.00,134.25 L485.50,134.40 L486.00,134.54 L486.50,134.68 L487.00,134.83 L487.50,134.97 L488.00,135.12 L488.50,135.26 L489.00,135.42 L489.50,135.57 L490.00,135.73 L490.50,135.90 L491.00,136.08 L491.50,136.26 L492.00,136.45 L492.50,136.65 L493.00,136.87 L493.50,137.10 L494.00,137.34 L494.50,137.58 L495.00,137.84 L495.50,138.11 L496.00,138.38 L496.50,138.66 L497.00,138.94 L497.50,139.22 L498.00,139.51 L498.50,139.79 L499.00,140.08 L499.50,140.37 L500.00,140.65 L500.50,140.93 L501.00,141.22 L501.50,141.51 L502.00,141.81 L502.50,142.11 L503.00,142.41 L503.50,142.72 L504.00,143.02 L504.50,143.33 L505.00,143.64 L505.50,143.95 L506.00,144.26 L506.50,144.58 L507.00,144.89 L507.50,145.20 L508.00,145.51 L508.50,145.83 L509.00,146.14 L509.50,146.44 L510.00,146.75 L510.50,147.06 L511.00,147.36 L511.50,147.67 L512.00,147.98 L512.50,148.30 L513.00,148.61 L513.50,148.92 L514.00,149.23 L514.50,149.54 L515.00,149.85 L515.50,150.16 L516.00,150.47 L516.50,150.78 L517.00,151.08 L517.50,151.39 L518.00,151.68 L518.50,151.98 L519.00,152.27 L519.50,152.56 L520.00,152.85 L520.50,153.13 L521.00,153.42 L521.50,153.71 L522.00,153.99 L522.50,154.28 L523.00,154.56 L523.50,154.85 L524.00,155.13 L524.50,155.41 L525.00,155.68 L525.50,155.95 L526.00,156.22 L526.50,156.48 L527.00,156.74 L527.50,156.99 L528.00,157.24 L528.50,157.48 L529.00,157.71 L529.50,157.93 L530.00,158.15 L530.50,158.36 L531.00,158.57 L531.50,158.77 L532.00,158.97 L532.50,159.17 L533.00,159.36 L533.50,159.55 L534.00,159.74 L534.50,159.92 L535.00,160.10 L535.50,160.27 L536.00,160.44 L536.50,160.61 L537.00,160.77 L537.50,160.93 L538.00,161.08 L538.50,161.23 L539.00,161.38 L539.50,161.52 L540.00,161.65 L540.50,161.78 L541.00,161.91 L541.50,162.03 L542.00,162.16 L542.50,162.28 L543.00,162.40 L543.50,162.51 L544.00,162.63 L544.50,162.74 L545.00,162.85 L545.50,162.95 L546.00,163.05 L546.50,163.15 L547.00,163.25 L547.50,163.34 L548.00,163.43 L548.50,163.52 L549.00,163.60 L549.50,163.68 L550.00,163.75 L550.50,163.82 L551.00,163.89 L551.50,163.96 L552.00,164.03 L552.50,164.10 L553.00,164.17 L553.50,164.23 L554.00,164.30 L554.50,164.36 L555.00,164.42 L555.50,164.48 L556.00,164.53 L556.50,164.58 L557.00,164.63 L557.50,164.68 L558.00,164.72 L558.50,164.76 L559.00,164.79 L559.50,164.82 L560.00,164.85 L560.50,164.87 L561.00,164.90 L561.50,164.92 L562.00,164.94 L562.50,164.96 L563.00,164.98 L563.50,165.00 L564.00,165.02 L564.50,165.04 L565.00,165.06 L565.50,165.08 L566.00,165.09 L566.50,165.11 L567.00,165.12 L567.50,165.14 L568.00,165.15 L568.50,165.17 L569.00,165.18 L569.50,165.19 L570.00,165.20 L570.50,165.22 L571.00,165.23 L571.50,165.24 L572.00,165.25 L572.50,165.26 L573.00,165.27 L573.50,165.28 L574.00,165.28 L574.50,165.29 L575.00,165.30 L575.50,165.31 L576.00,165.31 L576.50,165.32 L577.00,165.33 L577.50,165.34 L578.00,165.34 L578.50,165.35 L579.00,165.36 L579.50,165.37 L580.00,165.37 L580.50,165.38 L581.00,165.39 L581.50,165.39 L582.00,165.40 L582.50,165.40 L583.00,165.41 L583.50,165.41 L584.00,165.42 L584.50,165.42 L585.00,165.43 L585.50,165.43 L586.00,165.44 L586.50,165.44 L587.00,165.44 L587.50,165.44 L588.00,165.45 L588.50,165.45 L589.00,165.45 L589.50,165.45 L590.00,165.45 L590.00,165.45 Z" fill="#CCCCCC" clip-path="url(#cl)"/>
<path d="M380.00,165.45 L380.00,165.45 L380.50,165.44 L381.00,165.43 L381.50,165.42 L382.00,165.41 L382.50,165.40 L383.00,165.39 L383.50,165.38 L384.00,165.36 L384.50,165.35 L385.00,165.33 L385.50,165.32 L386.00,165.30 L386.50,165.28 L387.00,165.26 L387.50,165.25 L388.00,165.23 L388.50,165.21 L389.00,165.19 L389.50,165.17 L390.00,165.15 L390.50,165.13 L391.00,165.11 L391.50,165.09 L392.00,165.06 L392.50,165.04 L393.00,165.02 L393.50,164.99 L394.00,164.96 L394.50,164.94 L395.00,164.91 L395.50,164.88 L396.00,164.85 L396.50,164.81 L397.00,164.78 L397.50,164.75 L398.00,164.71 L398.50,164.67 L399.00,164.63 L399.50,164.59 L400.00,164.55 L400.50,164.50 L401.00,164.46 L401.50,164.40 L402.00,164.34 L402.50,164.28 L403.00,164.22 L403.50,164.15 L404.00,164.08 L404.50,164.00 L405.00,163.92 L405.50,163.84 L406.00,163.76 L406.50,163.68 L407.00,163.59 L407.50,163.50 L408.00,163.41 L408.50,163.32 L409.00,163.23 L409.50,163.14 L410.00,163.05 L410.50,162.96 L411.00,162.86 L411.50,162.76 L412.00,162.65 L412.50,162.55 L413.00,162.44 L413.50,162.32 L414.00,162.21 L414.50,162.09 L415.00,161.97 L415.50,161.85 L416.00,161.72 L416.50,161.60 L417.00,161.47 L417.50,161.33 L418.00,161.20 L418.50,161.07 L419.00,160.93 L419.50,160.79 L420.00,160.65 L420.50,160.51 L421.00,160.37 L421.50,160.22 L422.00,160.08 L422.50,159.93 L423.00,159.78 L423.50,159.62 L424.00,159.47 L424.50,159.31 L425.00,159.14 L425.50,158.98 L426.00,158.81 L426.50,158.63 L427.00,158.45 L427.50,158.26 L428.00,158.07 L428.50,157.88 L429.00,157.67 L429.50,157.46 L430.00,157.25 L430.50,157.02 L431.00,156.78 L431.50,156.53 L432.00,156.26 L432.50,155.98 L433.00,155.69 L433.50,155.39 L434.00,155.08 L434.50,154.77 L435.00,154.45 L435.50,154.12 L436.00,153.79 L436.50,153.46 L437.00,153.12 L437.50,152.79 L438.00,152.46 L438.50,152.12 L439.00,151.80 L439.50,151.47 L440.00,151.15 L440.50,150.83 L441.00,150.51 L441.50,150.19 L442.00,149.86 L442.50,149.54 L443.00,149.21 L443.50,148.88 L444.00,148.55 L444.50,148.22 L445.00,147.88 L445.50,147.55 L446.00,147.21 L446.50,146.88 L447.00,146.55 L447.50,146.21 L448.00,145.88 L448.50,145.54 L449.00,145.21 L449.50,144.88 L450.00,144.55 L450.50,144.22 L451.00,143.88 L451.50,143.54 L452.00,143.20 L452.50,142.85 L453.00,142.50 L453.50,142.16 L454.00,141.81 L454.50,141.46 L455.00,141.12 L455.50,140.78 L456.00,140.44 L456.50,140.11 L457.00,139.78 L457.50,139.45 L458.00,139.14 L458.50,138.83 L459.00,138.53 L459.50,138.23 L460.00,137.95 L460.50,137.67 L461.00,137.39 L461.50,137.10 L462.00,136.81 L462.50,136.53 L463.00,136.24 L463.50,135.96 L464.00,135.68 L464.50,135.41 L465.00,135.14 L465.50,134.89 L466.00,134.64 L466.50,134.40 L467.00,134.17 L467.50,133.96 L468.00,133.77 L468.50,133.58 L469.00,133.42 L469.50,133.28 L470.00,133.15 L470.50,133.03 L471.00,132.92 L471.50,132.81 L472.00,132.70 L472.50,132.59 L473.00,132.49 L473.50,132.40 L474.00,132.31 L474.50,132.24 L475.00,132.17 L475.50,132.12 L476.00,132.08 L476.50,132.06 L477.00,132.05 L477.50,132.07 L478.00,132.11 L478.50,132.19 L479.00,132.28 L479.50,132.40 L480.00,132.54 L480.50,132.69 L481.00,132.86 L481.50,133.03 L482.00,133.21 L482.50,133.39 L483.00,133.58 L483.50,133.76 L484.00,133.93 L484.50,134.10 L485.00,134.25 L485.50,134.40 L486.00,134.54 L486.50,134.68 L487.00,134.83 L487.50,134.97 L488.00,135.12 L488.50,135.26 L489.00,135.42 L489.50,135.57 L490.00,135.73 L490.50,135.90 L491.00,136.08 L491.50,136.26 L492.00,136.45 L492.50,136.65 L493.00,136.87 L493.50,137.10 L494.00,137.34 L494.50,137.58 L495.00,137.84 L495.50,138.11 L496.00,138.38 L496.50,138.66 L497.00,138.94 L497.50,139.22 L498.00,139.51 L498.50,139.79 L499.00,140.08 L499.50,140.37 L500.00,140.65 L500.50,140.93 L501.00,141.22 L501.50,141.51 L502.00,141.81 L502.50,142.11 L503.00,142.41 L503.50,142.72 L504.00,143.02 L504.50,143.33 L505.00,143.64 L505.50,143.95 L506.00,144.26 L506.50,144.58 L507.00,144.89 L507.50,145.20 L508.00,145.51 L508.50,145.83 L509.00,146.14 L509.50,146.44 L510.00,146.75 L510.50,147.06 L511.00,147.36 L511.50,147.67 L512.00,147.98 L512.50,148.30 L513.00,148.61 L513.50,148.92 L514.00,149.23 L514.50,149.54 L515.00,149.85 L515.50,150.16 L516.00,150.47 L516.50,150.78 L517.00,151.08 L517.50,151.39 L518.00,151.68 L518.50,151.98 L519.00,152.27 L519.50,152.56 L520.00,152.85 L520.50,153.13 L521.00,153.42 L521.50,153.71 L522.00,153.99 L522.50,154.28 L523.00,154.56 L523.50,154.85 L524.00,155.13 L524.50,155.41 L525.00,155.68 L525.50,155.95 L526.00,156.22 L526.50,156.48 L527.00,156.74 L527.50,156.99 L528.00,157.24 L528.50,157.48 L529.00,157.71 L529.50,157.93 L530.00,158.15 L530.50,158.36 L531.00,158.57 L531.50,158.77 L532.00,158.97 L532.50,159.17 L533.00,159.36 L533.50,159.55 L534.00,159.74 L534.50,159.92 L535.00,160.10 L535.50,160.27 L536.00,160.44 L536.50,160.61 L537.00,160.77 L537.50,160.93 L538.00,161.08 L538.50,161.23 L539.00,161.38 L539.50,161.52 L540.00,161.65 L540.50,161.78 L541.00,161.91 L541.50,162.03 L542.00,162.16 L542.50,162.28 L543.00,162.40 L543.50,162.51 L544.00,162.63 L544.50,162.74 L545.00,162.85 L545.50,162.95 L546.00,163.05 L546.50,163.15 L547.00,163.25 L547.50,163.34 L548.00,163.43 L548.50,163.52 L549.00,163.60 L549.50,163.68 L550.00,163.75 L550.50,163.82 L551.00,163.89 L551.50,163.96 L552.00,164.03 L552.50,164.10 L553.00,164.17 L553.50,164.23 L554.00,164.30 L554.50,164.36 L555.00,164.42 L555.50,164.48 L556.00,164.53 L556.50,164.58 L557.00,164.63 L557.50,164.68 L558.00,164.72 L558.50,164.76 L559.00,164.79 L559.50,164.82 L560.00,164.85 L560.50,164.87 L561.00,164.90 L561.50,164.92 L562.00,164.94 L562.50,164.96 L563.00,164.98 L563.50,165.00 L564.00,165.02 L564.50,165.04 L565.00,165.06 L565.50,165.08 L566.00,165.09 L566.50,165.11 L567.00,165.12 L567.50,165.14 L568.00,165.15 L568.50,165.17 L569.00,165.18 L569.50,165.19 L570.00,165.20 L570.50,165.22 L571.00,165.23 L571.50,165.24 L572.00,165.25 L572.50,165.26 L573.00,165.27 L573.50,165.28 L574.00,165.28 L574.50,165.29 L575.00,165.30 L575.50,165.31 L576.00,165.31 L576.50,165.32 L577.00,165.33 L577.50,165.34 L578.00,165.34 L578.50,165.35 L579.00,165.36 L579.50,165.37 L580.00,165.37 L580.50,165.38 L581.00,165.39 L581.50,165.39 L582.00,165.40 L582.50,165.40 L583.00,165.41 L583.50,165.41 L584.00,165.42 L584.50,165.42 L585.00,165.43 L585.50,165.43 L586.00,165.44 L586.50,165.44 L587.00,165.44 L587.50,165.44 L588.00,165.45 L588.50,165.45 L589.00,165.45 L589.50,165.45 L590.00,165.45 L590.00,165.45 Z" fill="#87CEEB" clip-path="url(#cr)"/>
<path d="M415.00,209.60 L415.00,209.60 L415.50,209.60 L416.00,209.60 L416.50,209.59 L417.00,209.59 L417.50,209.58 L418.00,209.58 L418.50,209.57 L419.00,209.56 L419.50,209.55 L420.00,209.54 L420.50,209.52 L421.00,209.51 L421.50,209.49 L422.00,209.48 L422.50,209.46 L423.00,209.44 L423.50,209.42 L424.00,209.40 L424.50,209.38 L425.00,209.36 L425.50,209.34 L426.00,209.31 L426.50,209.29 L427.00,209.26 L427.50,209.24 L428.00,209.21 L428.50,209.18 L429.00,209.16 L429.50,209.13 L430.00,209.10 L430.50,209.07 L431.00,209.02 L431.50,208.97 L432.00,208.92 L432.50,208.85 L433.00,208.78 L433.50,208.70 L434.00,208.62 L434.50,208.53 L435.00,208.44 L435.50,208.34 L436.00,208.24 L436.50,208.14 L437.00,208.04 L437.50,207.93 L438.00,207.83 L438.50,207.72 L439.00,207.61 L439.50,207.51 L440.00,207.40 L440.50,207.29 L441.00,207.18 L441.50,207.07 L442.00,206.95 L442.50,206.83 L443.00,206.71 L443.50,206.58 L444.00,206.45 L444.50,206.32 L445.00,206.18 L445.50,206.05 L446.00,205.90 L446.50,205.76 L447.00,205.62 L447.50,205.47 L448.00,205.32 L448.50,205.17 L449.00,205.01 L449.50,204.86 L450.00,204.70 L450.50,204.54 L451.00,204.38 L451.50,204.21 L452.00,204.05 L452.50,203.88 L453.00,203.70 L453.50,203.53 L454.00,203.35 L454.50,203.17 L455.00,202.98 L455.50,202.79 L456.00,202.60 L456.50,202.40 L457.00,202.20 L457.50,201.99 L458.00,201.78 L458.50,201.57 L459.00,201.35 L459.50,201.13 L460.00,200.90 L460.50,200.66 L461.00,200.42 L461.50,200.16 L462.00,199.90 L462.50,199.62 L463.00,199.34 L463.50,199.06 L464.00,198.76 L464.50,198.47 L465.00,198.16 L465.50,197.86 L466.00,197.55 L466.50,197.24 L467.00,196.93 L467.50,196.62 L468.00,196.31 L468.50,196.00 L469.00,195.70 L469.50,195.40 L470.00,195.10 L470.50,194.81 L471.00,194.51 L471.50,194.22 L472.00,193.93 L472.50,193.65 L473.00,193.36 L473.50,193.07 L474.00,192.78 L474.50,192.49 L475.00,192.20 L475.50,191.90 L476.00,191.61 L476.50,191.31 L477.00,191.00 L477.50,190.70 L478.00,190.39 L478.50,190.07 L479.00,189.75 L479.50,189.43 L480.00,189.10 L480.50,188.76 L481.00,188.40 L481.50,188.03 L482.00,187.65 L482.50,187.25 L483.00,186.85 L483.50,186.45 L484.00,186.04 L484.50,185.63 L485.00,185.22 L485.50,184.81 L486.00,184.41 L486.50,184.01 L487.00,183.63 L487.50,183.25 L488.00,182.89 L488.50,182.54 L489.00,182.21 L489.50,181.89 L490.00,181.60 L490.50,181.32 L491.00,181.04 L491.50,180.75 L492.00,180.47 L492.50,180.20 L493.00,179.93 L493.50,179.66 L494.00,179.39 L494.50,179.14 L495.00,178.89 L495.50,178.66 L496.00,178.43 L496.50,178.21 L497.00,178.01 L497.50,177.82 L498.00,177.64 L498.50,177.48 L499.00,177.33 L499.50,177.21 L500.00,177.10 L500.50,177.00 L501.00,176.90 L501.50,176.81 L502.00,176.72 L502.50,176.63 L503.00,176.55 L503.50,176.48 L504.00,176.42 L504.50,176.37 L505.00,176.33 L505.50,176.31 L506.00,176.30 L506.50,176.31 L507.00,176.34 L507.50,176.39 L508.00,176.45 L508.50,176.53 L509.00,176.62 L509.50,176.73 L510.00,176.84 L510.50,176.97 L511.00,177.10 L511.50,177.24 L512.00,177.39 L512.50,177.54 L513.00,177.69 L513.50,177.84 L514.00,178.00 L514.50,178.15 L515.00,178.30 L515.50,178.45 L516.00,178.62 L516.50,178.80 L517.00,178.98 L517.50,179.18 L518.00,179.38 L518.50,179.59 L519.00,179.81 L519.50,180.04 L520.00,180.28 L520.50,180.52 L521.00,180.77 L521.50,181.02 L522.00,181.28 L522.50,181.54 L523.00,181.81 L523.50,182.08 L524.00,182.36 L524.50,182.63 L525.00,182.91 L525.50,183.19 L526.00,183.47 L526.50,183.75 L527.00,184.04 L527.50,184.32 L528.00,184.60 L528.50,184.88 L529.00,185.15 L529.50,185.43 L530.00,185.70 L530.50,185.97 L531.00,186.25 L531.50,186.53 L532.00,186.81 L532.50,187.10 L533.00,187.39 L533.50,187.68 L534.00,187.98 L534.50,188.28 L535.00,188.58 L535.50,188.88 L536.00,189.18 L536.50,189.48 L537.00,189.78 L537.50,190.09 L538.00,190.39 L538.50,190.69 L539.00,191.00 L539.50,191.30 L540.00,191.60 L540.50,191.90 L541.00,192.21 L541.50,192.51 L542.00,192.82 L542.50,193.13 L543.00,193.44 L543.50,193.75 L544.00,194.07 L544.50,194.38 L545.00,194.69 L545.50,195.00 L546.00,195.31 L546.50,195.62 L547.00,195.93 L547.50,196.23 L548.00,196.53 L548.50,196.83 L549.00,197.12 L549.50,197.41 L550.00,197.70 L550.50,197.98 L551.00,198.27 L551.50,198.56 L552.00,198.84 L552.50,199.13 L553.00,199.41 L553.50,199.70 L554.00,199.98 L554.50,200.26 L555.00,200.53 L555.50,200.80 L556.00,201.07 L556.50,201.33 L557.00,201.59 L557.50,201.84 L558.00,202.09 L558.50,202.33 L559.00,202.56 L559.50,202.78 L560.00,203.00 L560.50,203.21 L561.00,203.42 L561.50,203.63 L562.00,203.83 L562.50,204.03 L563.00,204.23 L563.50,204.43 L564.00,204.62 L564.50,204.81 L565.00,204.99 L565.50,205.17 L566.00,205.34 L566.50,205.51 L567.00,205.67 L567.50,205.83 L568.00,205.98 L568.50,206.12 L569.00,206.25 L569.50,206.38 L570.00,206.50 L570.50,206.61 L571.00,206.72 L571.50,206.83 L572.00,206.94 L572.50,207.04 L573.00,207.14 L573.50,207.24 L574.00,207.34 L574.50,207.43 L575.00,207.52 L575.50,207.60 L576.00,207.68 L576.50,207.76 L577.00,207.84 L577.50,207.91 L578.00,207.97 L578.50,208.04 L579.00,208.10 L579.50,208.15 L580.00,208.20 L580.50,208.25 L581.00,208.29 L581.50,208.34 L582.00,208.38 L582.50,208.42 L583.00,208.47 L583.50,208.51 L584.00,208.54 L584.50,208.58 L585.00,208.62 L585.50,208.66 L586.00,208.69 L586.50,208.72 L587.00,208.76 L587.50,208.79 L588.00,208.82 L588.50,208.85 L589.00,208.88 L589.50,208.91 L590.00,208.93 L590.50,208.96 L591.00,208.98 L591.50,209.01 L592.00,209.03 L592.50,209.05 L593.00,209.07 L593.50,209.09 L594.00,209.11 L594.50,209.13 L595.00,209.15 L595.50,209.17 L596.00,209.18 L596.50,209.20 L597.00,209.22 L597.50,209.23 L598.00,209.25 L598.50,209.26 L599.00,209.27 L599.50,209.29 L600.00,209.30 L600.50,209.31 L601.00,209.33 L601.50,209.34 L602.00,209.35 L602.50,209.36 L603.00,209.37 L603.50,209.39 L604.00,209.40 L604.50,209.41 L605.00,209.42 L605.50,209.43 L606.00,209.44 L606.50,209.45 L607.00,209.45 L607.50,209.46 L608.00,209.47 L608.50,209.48 L609.00,209.49 L609.50,209.49 L610.00,209.50 L610.50,209.51 L611.00,209.51 L611.50,209.52 L612.00,209.53 L612.50,209.53 L613.00,209.54 L613.50,209.54 L614.00,209.55 L614.50,209.56 L615.00,209.56 L615.50,209.57 L616.00,209.57 L616.50,209.58 L617.00,209.58 L617.50,209.58 L618.00,209.59 L618.50,209.59 L619.00,209.59 L619.50,209.60 L620.00,209.60 L620.00,209.60 Z" fill="#CCCCCC" clip-path="url(#cl)"/>
<path d="M415.00,209.60 L415.00,209.60 L415.50,209.60 L416.00,209.60 L416.50,209.59 L417.00,209.59 L417.50,209.58 L418.00,209.58 L418.50,209.57 L419.00,209.56 L419.50,209.55 L420.00,209.54 L420.50,209.52 L421.00,209.51 L421.50,209.49 L422.00,209.48 L422.50,209.46 L423.00,209.44 L423.50,209.42 L424.00,209.40 L424.50,209.38 L425.00,209.36 L425.50,209.34 L426.00,209.31 L426.50,209.29 L427.00,209.26 L427.50,209.24 L428.00,209.21 L428.50,209.18 L429.00,209.16 L429.50,209.13 L430.00,209.10 L430.50,209.07 L431.00,209.02 L431.50,208.97 L432.00,208.92 L432.50,208.85 L433.00,208.78 L433.50,208.70 L434.00,208.62 L434.50,208.53 L435.00,208.44 L435.50,208.34 L436.00,208.24 L436.50,208.14 L437.00,208.04 L437.50,207.93 L438.00,207.83 L438.50,207.72 L439.00,207.61 L439.50,207.51 L440.00,207.40 L440.50,207.29 L441.00,207.18 L441.50,207.07 L442.00,206.95 L442.50,206.83 L443.00,206.71 L443.50,206.58 L444.00,206.45 L444.50,206.32 L445.00,206.18 L445.50,206.05 L446.00,205.90 L446.50,205.76 L447.00,205.62 L447.50,205.47 L448.00,205.32 L448.50,205.17 L449.00,205.01 L449.50,204.86 L450.00,204.70 L450.50,204.54 L451.00,204.38 L451.50,204.21 L452.00,204.05 L452.50,203.88 L453.00,203.70 L453.50,203.53 L454.00,203.35 L454.50,203.17 L455.00,202.98 L455.50,202.79 L456.00,202.60 L456.50,202.40 L457.00,202.20 L457.50,201.99 L458.00,201.78 L458.50,201.57 L459.00,201.35 L459.50,201.13 L460.00,200.90 L460.50,200.66 L461.00,200.42 L461.50,200.16 L462.00,199.90 L462.50,199.62 L463.00,199.34 L463.50,199.06 L464.00,198.76 L464.50,198.47 L465.00,198.16 L465.50,197.86 L466.00,197.55 L466.50,197.24 L467.00,196.93 L467.50,196.62 L468.00,196.31 L468.50,196.00 L469.00,195.70 L469.50,195.40 L470.00,195.10 L470.50,194.81 L471.00,194.51 L471.50,194.22 L472.00,193.93 L472.50,193.65 L473.00,193.36 L473.50,193.07 L474.00,192.78 L474.50,192.49 L475.00,192.20 L475.50,191.90 L476.00,191.61 L476.50,191.31 L477.00,191.00 L477.50,190.70 L478.00,190.39 L478.50,190.07 L479.00,189.75 L479.50,189.43 L480.00,189.10 L480.50,188.76 L481.00,188.40 L481.50,188.03 L482.00,187.65 L482.50,187.25 L483.00,186.85 L483.50,186.45 L484.00,186.04 L484.50,185.63 L485.00,185.22 L485.50,184.81 L486.00,184.41 L486.50,184.01 L487.00,183.63 L487.50,183.25 L488.00,182.89 L488.50,182.54 L489.00,182.21 L489.50,181.89 L490.00,181.60 L490.50,181.32 L491.00,181.04 L491.50,180.75 L492.00,180.47 L492.50,180.20 L493.00,179.93 L493.50,179.66 L494.00,179.39 L494.50,179.14 L495.00,178.89 L495.50,178.66 L496.00,178.43 L496.50,178.21 L497.00,178.01 L497.50,177.82 L498.00,177.64 L498.50,177.48 L499.00,177.33 L499.50,177.21 L500.00,177.10 L500.50,177.00 L501.00,176.90 L501.50,176.81 L502.00,176.72 L502.50,176.63 L503.00,176.55 L503.50,176.48 L504.00,176.42 L504.50,176.37 L505.00,176.33 L505.50,176.31 L506.00,176.30 L506.50,176.31 L507.00,176.34 L507.50,176.39 L508.00,176.45 L508.50,176.53 L509.00,176.62 L509.50,176.73 L510.00,176.84 L510.50,176.97 L511.00,177.10 L511.50,177.24 L512.00,177.39 L512.50,177.54 L513.00,177.69 L513.50,177.84 L514.00,178.00 L514.50,178.15 L515.00,178.30 L515.50,178.45 L516.00,178.62 L516.50,178.80 L517.00,178.98 L517.50,179.18 L518.00,179.38 L518.50,179.59 L519.00,179.81 L519.50,180.04 L520.00,180.28 L520.50,180.52 L521.00,180.77 L521.50,181.02 L522.00,181.28 L522.50,181.54 L523.00,181.81 L523.50,182.08 L524.00,182.36 L524.50,182.63 L525.00,182.91 L525.50,183.19 L526.00,183.47 L526.50,183.75 L527.00,184.04 L527.50,184.32 L528.00,184.60 L528.50,184.88 L529.00,185.15 L529.50,185.43 L530.00,185.70 L530.50,185.97 L531.00,186.25 L531.50,186.53 L532.00,186.81 L532.50,187.10 L533.00,187.39 L533.50,187.68 L534.00,187.98 L534.50,188.28 L535.00,188.58 L535.50,188.88 L536.00,189.18 L536.50,189.48 L537.00,189.78 L537.50,190.09 L538.00,190.39 L538.50,190.69 L539.00,191.00 L539.50,191.30 L540.00,191.60 L540.50,191.90 L541.00,192.21 L541.50,192.51 L542.00,192.82 L542.50,193.13 L543.00,193.44 L543.50,193.75 L544.00,194.07 L544.50,194.38 L545.00,194.69 L545.50,195.00 L546.00,195.31 L546.50,195.62 L547.00,195.93 L547.50,196.23 L548.00,196.53 L548.50,196.83 L549.00,197.12 L549.50,197.41 L550.00,197.70 L550.50,197.98 L551.00,198.27 L551.50,198.56 L552.00,198.84 L552.50,199.13 L553.00,199.41 L553.50,199.70 L554.00,199.98 L554.50,200.26 L555.00,200.53 L555.50,200.80 L556.00,201.07 L556.50,201.33 L557.00,201.59 L557.50,201.84 L558.00,202.09 L558.50,202.33 L559.00,202.56 L559.50,202.78 L560.00,203.00 L560.50,203.21 L561.00,203.42 L561.50,203.63 L562.00,203.83 L562.50,204.03 L563.00,204.23 L563.50,204.43 L564.00,204.62 L564.50,204.81 L565.00,204.99 L565.50,205.17 L566.00,205.34 L566.50,205.51 L567.00,205.67 L567.50,205.83 L568.00,205.98 L568.50,206.12 L569.00,206.25 L569.50,206.38 L570.00,206.50 L570.50,206.61 L571.00,206.72 L571.50,206.83 L572.00,206.94 L572.50,207.04 L573.00,207.14 L573.50,207.24 L574.00,207.34 L574.50,207.43 L575.00,207.52 L575.50,207.60 L576.00,207.68 L576.50,207.76 L577.00,207.84 L577.50,207.91 L578.00,207.97 L578.50,208.04 L579.00,208.10 L579.50,208.15 L580.00,208.20 L580.50,208.25 L581.00,208.29 L581.50,208.34 L582.00,208.38 L582.50,208.42 L583.00,208.47 L583.50,208.51 L584.00,208.54 L584.50,208.58 L585.00,208.62 L585.50,208.66 L586.00,208.69 L586.50,208.72 L587.00,208.76 L587.50,208.79 L588.00,208.82 L588.50,208.85 L589.00,208.88 L589.50,208.91 L590.00,208.93 L590.50,208.96 L591.00,208.98 L591.50,209.01 L592.00,209.03 L592.50,209.05 L593.00,209.07 L593.50,209.09 L594.00,209.11 L594.50,209.13 L595.00,209.15 L595.50,209.17 L596.00,209.18 L596.50,209.20 L597.00,209.22 L597.50,209.23 L598.00,209.25 L598.50,209.26 L599.00,209.27 L599.50,209.29 L600.00,209.30 L600.50,209.31 L601.00,209.33 L601.50,209.34 L602.00,209.35 L602.50,209.36 L603.00,209.37 L603.50,209.39 L604.00,209.40 L604.50,209.41 L605.00,209.42 L605.50,209.43 L606.00,209.44 L606.50,209.45 L607.00,209.45 L607.50,209.46 L608.00,209.47 L608.50,209.48 L609.00,209.49 L609.50,209.49 L610.00,209.50 L610.50,209.51 L611.00,209.51 L611.50,209.52 L612.00,209.53 L612.50,209.53 L613.00,209.54 L613.50,209.54 L614.00,209.55 L614.50,209.56 L615.00,209.56 L615.50,209.57 L616.00,209.57 L616.50,209.58 L617.00,209.58 L617.50,209.58 L618.00,209.59 L618.50,209.59 L619.00,209.59 L619.50,209.60 L620.00,209.60 L620.00,209.60 Z" fill="#87CEEB" clip-path="url(#cr)"/>
<path d="M355.00,253.70 L355.00,253.70 L355.50,253.70 L356.00,253.70 L356.50,253.70 L357.00,253.69 L357.50,253.69 L358.00,253.68 L358.50,253.68 L359.00,253.67 L359.50,253.66 L360.00,253.66 L360.50,253.65 L361.00,253.64 L361.50,253.63 L362.00,253.62 L362.50,253.61 L363.00,253.60 L363.50,253.58 L364.00,253.57 L364.50,253.56 L365.00,253.55 L365.50,253.53 L366.00,253.52 L366.50,253.51 L367.00,253.49 L367.50,253.48 L368.00,253.46 L368.50,253.45 L369.00,253.43 L369.50,253.42 L370.00,253.40 L370.50,253.38 L371.00,253.37 L371.50,253.35 L372.00,253.32 L372.50,253.30 L373.00,253.28 L373.50,253.25 L374.00,253.22 L374.50,253.20 L375.00,253.17 L375.50,253.13 L376.00,253.10 L376.50,253.07 L377.00,253.03 L377.50,253.00 L378.00,252.96 L378.50,252.92 L379.00,252.88 L379.50,252.84 L380.00,252.80 L380.50,252.76 L381.00,252.71 L381.50,252.66 L382.00,252.60 L382.50,252.54 L383.00,252.48 L383.50,252.42 L384.00,252.35 L384.50,252.28 L385.00,252.21 L385.50,252.14 L386.00,252.06 L386.50,251.98 L387.00,251.91 L387.50,251.82 L388.00,251.74 L388.50,251.66 L389.00,251.57 L389.50,251.49 L390.00,251.40 L390.50,251.31 L391.00,251.22 L391.50,251.13 L392.00,251.03 L392.50,250.93 L393.00,250.83 L393.50,250.72 L394.00,250.61 L394.50,250.50 L395.00,250.39 L395.50,250.27 L396.00,250.16 L396.50,250.03 L397.00,249.91 L397.50,249.78 L398.00,249.65 L398.50,249.52 L399.00,249.38 L399.50,249.24 L400.00,249.10 L400.50,248.95 L401.00,248.80 L401.50,248.65 L402.00,248.49 L402.50,248.32 L403.00,248.15 L403.50,247.98 L404.00,247.80 L404.50,247.62 L405.00,247.43 L405.50,247.23 L406.00,247.04 L406.50,246.83 L407.00,246.63 L407.50,246.42 L408.00,246.20 L408.50,245.98 L409.00,245.76 L409.50,245.53 L410.00,245.30 L410.50,245.06 L411.00,244.82 L411.50,244.57 L412.00,244.31 L412.50,244.04 L413.00,243.77 L413.50,243.49 L414.00,243.20 L414.50,242.90 L415.00,242.60 L415.50,242.29 L416.00,241.98 L416.50,241.65 L417.00,241.32 L417.50,240.99 L418.00,240.64 L418.50,240.29 L419.00,239.94 L419.50,239.57 L420.00,239.20 L420.50,238.81 L421.00,238.41 L421.50,237.98 L422.00,237.54 L422.50,237.08 L423.00,236.61 L423.50,236.13 L424.00,235.63 L424.50,235.13 L425.00,234.62 L425.50,234.10 L426.00,233.58 L426.50,233.06 L427.00,232.54 L427.50,232.02 L428.00,231.50 L428.50,230.99 L429.00,230.49 L429.50,229.99 L430.00,229.50 L430.50,229.01 L431.00,228.52 L431.50,228.01 L432.00,227.50 L432.50,226.99 L433.00,226.47 L433.50,225.96 L434.00,225.44 L434.50,224.93 L435.00,224.42 L435.50,223.91 L436.00,223.41 L436.50,222.93 L437.00,222.45 L437.50,221.98 L438.00,221.53 L438.50,221.10 L439.00,220.68 L439.50,220.28 L440.00,219.90 L440.50,219.53 L441.00,219.17 L441.50,218.80 L442.00,218.45 L442.50,218.11 L443.00,217.78 L443.50,217.46 L444.00,217.16 L444.50,216.88 L445.00,216.63 L445.50,216.40 L446.00,216.20 L446.50,216.01 L447.00,215.82 L447.50,215.64 L448.00,215.45 L448.50,215.28 L449.00,215.12 L449.50,214.98 L450.00,214.85 L450.50,214.75 L451.00,214.67 L451.50,214.62 L452.00,214.60 L452.50,214.62 L453.00,214.67 L453.50,214.75 L454.00,214.85 L454.50,214.99 L455.00,215.14 L455.50,215.31 L456.00,215.50 L456.50,215.71 L457.00,215.92 L457.50,216.15 L458.00,216.38 L458.50,216.61 L459.00,216.84 L459.50,217.07 L460.00,217.30 L460.50,217.53 L461.00,217.79 L461.50,218.06 L462.00,218.35 L462.50,218.66 L463.00,218.98 L463.50,219.32 L464.00,219.66 L464.50,220.02 L465.00,220.38 L465.50,220.75 L466.00,221.13 L466.50,221.50 L467.00,221.88 L467.50,222.26 L468.00,222.64 L468.50,223.01 L469.00,223.38 L469.50,223.75 L470.00,224.10 L470.50,224.45 L471.00,224.80 L471.50,225.15 L472.00,225.50 L472.50,225.86 L473.00,226.21 L473.50,226.56 L474.00,226.92 L474.50,227.27 L475.00,227.63 L475.50,227.99 L476.00,228.35 L476.50,228.71 L477.00,229.08 L477.50,229.44 L478.00,229.81 L478.50,230.18 L479.00,230.55 L479.50,230.92 L480.00,231.30 L480.50,231.68 L481.00,232.07 L481.50,232.46 L482.00,232.86 L482.50,233.26 L483.00,233.67 L483.50,234.08 L484.00,234.49 L484.50,234.90 L485.00,235.31 L485.50,235.72 L486.00,236.12 L486.50,236.53 L487.00,236.93 L487.50,237.32 L488.00,237.71 L488.50,238.10 L489.00,238.47 L489.50,238.84 L490.00,239.20 L490.50,239.55 L491.00,239.91 L491.50,240.26 L492.00,240.61 L492.50,240.96 L493.00,241.31 L493.50,241.65 L494.00,241.99 L494.50,242.33 L495.00,242.66 L495.50,242.99 L496.00,243.31 L496.50,243.62 L497.00,243.93 L497.50,244.23 L498.00,244.52 L498.50,244.80 L499.00,245.08 L499.50,245.34 L500.00,245.60 L500.50,245.85 L501.00,246.09 L501.50,246.33 L502.00,246.57 L502.50,246.81 L503.00,247.03 L503.50,247.26 L504.00,247.48 L504.50,247.70 L505.00,247.91 L505.50,248.11 L506.00,248.31 L506.50,248.51 L507.00,248.70 L507.50,248.88 L508.00,249.06 L508.50,249.23 L509.00,249.39 L509.50,249.55 L510.00,249.70 L510.50,249.85 L511.00,249.99 L511.50,250.13 L512.00,250.27 L512.50,250.41 L513.00,250.54 L513.50,250.67 L514.00,250.80 L514.50,250.92 L515.00,251.04 L515.50,251.16 L516.00,251.27 L516.50,251.38 L517.00,251.48 L517.50,251.58 L518.00,251.68 L518.50,251.77 L519.00,251.85 L519.50,251.93 L520.00,252.00 L520.50,252.07 L521.00,252.14 L521.50,252.20 L522.00,252.27 L522.50,252.33 L523.00,252.39 L523.50,252.45 L524.00,252.51 L524.50,252.56 L525.00,252.61 L525.50,252.66 L526.00,252.71 L526.50,252.76 L527.00,252.80 L527.50,252.84 L528.00,252.88 L528.50,252.91 L529.00,252.95 L529.50,252.97 L530.00,253.00 L530.50,253.02 L531.00,253.05 L531.50,253.07 L532.00,253.09 L532.50,253.11 L533.00,253.13 L533.50,253.15 L534.00,253.17 L534.50,253.18 L535.00,253.20 L535.50,253.22 L536.00,253.23 L536.50,253.25 L537.00,253.26 L537.50,253.27 L538.00,253.29 L538.50,253.30 L539.00,253.31 L539.50,253.33 L540.00,253.34 L540.50,253.35 L541.00,253.36 L541.50,253.37 L542.00,253.39 L542.50,253.40 L543.00,253.41 L543.50,253.42 L544.00,253.43 L544.50,253.44 L545.00,253.45 L545.50,253.46 L546.00,253.47 L546.50,253.48 L547.00,253.49 L547.50,253.50 L548.00,253.51 L548.50,253.52 L549.00,253.53 L549.50,253.54 L550.00,253.55 L550.50,253.56 L551.00,253.57 L551.50,253.58 L552.00,253.59 L552.50,253.60 L553.00,253.60 L553.50,253.61 L554.00,253.62 L554.50,253.63 L555.00,253.64 L555.50,253.64 L556.00,253.65 L556.50,253.66 L557.00,253.67 L557.50,253.67 L558.00,253.68 L558.50,253.68 L559.00,253.69 L559.50,253.69 L560.00,253.70 L560.00,253.70 Z" fill="#CCCCCC" clip-path="url(#cl)"/>
<path d="M355.00,253.70 L355.00,253.70 L355.50,253.70 L356.00,253.70 L356.50,253.70 L357.00,253.69 L357.50,253.69 L358.00,253.68 L358.50,253.68 L359.00,253.67 L359.50,253.66 L360.00,253.66 L360.50,253.65 L361.00,253.64 L361.50,253.63 L362.00,253.62 L362.50,253.61 L363.00,253.60 L363.50,253.58 L364.00,253.57 L364.50,253.56 L365.00,253.55 L365.50,253.53 L366.00,253.52 L366.50,253.51 L367.00,253.49 L367.50,253.48 L368.00,253.46 L368.50,253.45 L369.00,253.43 L369.50,253.42 L370.00,253.40 L370.50,253.38 L371.00,253.37 L371.50,253.35 L372.00,253.32 L372.50,253.30 L373.00,253.28 L373.50,253.25 L374.00,253.22 L374.50,253.20 L375.00,253.17 L375.50,253.13 L376.00,253.10 L376.50,253.07 L377.00,253.03 L377.50,253.00 L378.00,252.96 L378.50,252.92 L379.00,252.88 L379.50,252.84 L380.00,252.80 L380.50,252.76 L381.00,252.71 L381.50,252.66 L382.00,252.60 L382.50,252.54 L383.00,252.48 L383.50,252.42 L384.00,252.35 L384.50,252.28 L385.00,252.21 L385.50,252.14 L386.00,252.06 L386.50,251.98 L387.00,251.91 L387.50,251.82 L388.00,251.74 L388.50,251.66 L389.00,251.57 L389.50,251.49 L390.00,251.40 L390.50,251.31 L391.00,251.22 L391.50,251.13 L392.00,251.03 L392.50,250.93 L393.00,250.83 L393.50,250.72 L394.00,250.61 L394.50,250.50 L395.00,250.39 L395.50,250.27 L396.00,250.16 L396.50,250.03 L397.00,249.91 L397.50,249.78 L398.00,249.65 L398.50,249.52 L399.00,249.38 L399.50,249.24 L400.00,249.10 L400.50,248.95 L401.00,248.80 L401.50,248.65 L402.00,248.49 L402.50,248.32 L403.00,248.15 L403.50,247.98 L404.00,247.80 L404.50,247.62 L405.00,247.43 L405.50,247.23 L406.00,247.04 L406.50,246.83 L407.00,246.63 L407.50,246.42 L408.00,246.20 L408.50,245.98 L409.00,245.76 L409.50,245.53 L410.00,245.30 L410.50,245.06 L411.00,244.82 L411.50,244.57 L412.00,244.31 L412.50,244.04 L413.00,243.77 L413.50,243.49 L414.00,243.20 L414.50,242.90 L415.00,242.60 L415.50,242.29 L416.00,241.98 L416.50,241.65 L417.00,241.32 L417.50,240.99 L418.00,240.64 L418.50,240.29 L419.00,239.94 L419.50,239.57 L420.00,239.20 L420.50,238.81 L421.00,238.41 L421.50,237.98 L422.00,237.54 L422.50,237.08 L423.00,236.61 L423.50,236.13 L424.00,235.63 L424.50,235.13 L425.00,234.62 L425.50,234.10 L426.00,233.58 L426.50,233.06 L427.00,232.54 L427.50,232.02 L428.00,231.50 L428.50,230.99 L429.00,230.49 L429.50,229.99 L430.00,229.50 L430.50,229.01 L431.00,228.52 L431.50,228.01 L432.00,227.50 L432.50,226.99 L433.00,226.47 L433.50,225.96 L434.00,225.44 L434.50,224.93 L435.00,224.42 L435.50,223.91 L436.00,223.41 L436.50,222.93 L437.00,222.45 L437.50,221.98 L438.00,221.53 L438.50,221.10 L439.00,220.68 L439.50,220.28 L440.00,219.90 L440.50,219.53 L441.00,219.17 L441.50,218.80 L442.00,218.45 L442.50,218.11 L443.00,217.78 L443.50,217.46 L444.00,217.16 L444.50,216.88 L445.00,216.63 L445.50,216.40 L446.00,216.20 L446.50,216.01 L447.00,215.82 L447.50,215.64 L448.00,215.45 L448.50,215.28 L449.00,215.12 L449.50,214.98 L450.00,214.85 L450.50,214.75 L451.00,214.67 L451.50,214.62 L452.00,214.60 L452.50,214.62 L453.00,214.67 L453.50,214.75 L454.00,214.85 L454.50,214.99 L455.00,215.14 L455.50,215.31 L456.00,215.50 L456.50,215.71 L457.00,215.92 L457.50,216.15 L458.00,216.38 L458.50,216.61 L459.00,216.84 L459.50,217.07 L460.00,217.30 L460.50,217.53 L461.00,217.79 L461.50,218.06 L462.00,218.35 L462.50,218.66 L463.00,218.98 L463.50,219.32 L464.00,219.66 L464.50,220.02 L465.00,220.38 L465.50,220.75 L466.00,221.13 L466.50,221.50 L467.00,221.88 L467.50,222.26 L468.00,222.64 L468.50,223.01 L469.00,223.38 L469.50,223.75 L470.00,224.10 L470.50,224.45 L471.00,224.80 L471.50,225.15 L472.00,225.50 L472.50,225.86 L473.00,226.21 L473.50,226.56 L474.00,226.92 L474.50,227.27 L475.00,227.63 L475.50,227.99 L476.00,228.35 L476.50,228.71 L477.00,229.08 L477.50,229.44 L478.00,229.81 L478.50,230.18 L479.00,230.55 L479.50,230.92 L480.00,231.30 L480.50,231.68 L481.00,232.07 L481.50,232.46 L482.00,232.86 L482.50,233.26 L483.00,233.67 L483.50,234.08 L484.00,234.49 L484.50,234.90 L485.00,235.31 L485.50,235.72 L486.00,236.12 L486.50,236.53 L487.00,236.93 L487.50,237.32 L488.00,237.71 L488.50,238.10 L489.00,238.47 L489.50,238.84 L490.00,239.20 L490.50,239.55 L491.00,239.91 L491.50,240.26 L492.00,240.61 L492.50,240.96 L493.00,241.31 L493.50,241.65 L494.00,241.99 L494.50,242.33 L495.00,242.66 L495.50,242.99 L496.00,243.31 L496.50,243.62 L497.00,243.93 L497.50,244.23 L498.00,244.52 L498.50,244.80 L499.00,245.08 L499.50,245.34 L500.00,245.60 L500.50,245.85 L501.00,246.09 L501.50,246.33 L502.00,246.57 L502.50,246.81 L503.00,247.03 L503.50,247.26 L504.00,247.48 L504.50,247.70 L505.00,247.91 L505.50,248.11 L506.00,248.31 L506.50,248.51 L507.00,248.70 L507.50,248.88 L508.00,249.06 L508.50,249.23 L509.00,249.39 L509.50,249.55 L510.00,249.70 L510.50,249.85 L511.00,249.99 L511.50,250.13 L512.00,250.27 L512.50,250.41 L513.00,250.54 L513.50,250.67 L514.00,250.80 L514.50,250.92 L515.00,251.04 L515.50,251.16 L516.00,251.27 L516.50,251.38 L517.00,251.48 L517.50,251.58 L518.00,251.68 L518.50,251.77 L519.00,251.85 L519.50,251.93 L520.00,252.00 L520.50,252.07 L521.00,252.14 L521.50,252.20 L522.00,252.27 L522.50,252.33 L523.00,252.39 L523.50,252.45 L524.00,252.51 L524.50,252.56 L525.00,252.61 L525.50,252.66 L526.00,252.71 L526.50,252.76 L527.00,252.80 L527.50,252.84 L528.00,252.88 L528.50,252.91 L529.00,252.95 L529.50,252.97 L530.00,253.00 L530.50,253.02 L531.00,253.05 L531.50,253.07 L532.00,253.09 L532.50,253.11 L533.00,253.13 L533.50,253.15 L534.00,253.17 L534.50,253.18 L535.00,253.20 L535.50,253.22 L536.00,253.23 L536.50,253.25 L537.00,253.26 L537.50,253.27 L538.00,253.29 L538.50,253.30 L539.00,253.31 L539.50,253.33 L540.00,253.34 L540.50,253.35 L541.00,253.36 L541.50,253.37 L542.00,253.39 L542.50,253.40 L543.00,253.41 L543.50,253.42 L544.00,253.43 L544.50,253.44 L545.00,253.45 L545.50,253.46 L546.00,253.47 L546.50,253.48 L547.00,253.49 L547.50,253.50 L548.00,253.51 L548.50,253.52 L549.00,253.53 L549.50,253.54 L550.00,253.55 L550.50,253.56 L551.00,253.57 L551.50,253.58 L552.00,253.59 L552.50,253.60 L553.00,253.60 L553.50,253.61 L554.00,253.62 L554.50,253.63 L555.00,253.64 L555.50,253.64 L556.00,253.65 L556.50,253.66 L557.00,253.67 L557.50,253.67 L558.00,253.68 L558.50,253.68 L559.00,253.69 L559.50,253.69 L560.00,253.70 L560.00,253.70 Z" fill="#87CEEB" clip-path="url(#cr)"/>
<line x1="430.30" y1="78.8" x2="430.30" y2="280.0" stroke="#000" stroke-width="1.6" stroke-dasharray="8.75 8.75"/>
<line x1="264.2" y1="121.3" x2="452.5" y2="121.3" stroke="#000" stroke-width="1.6"/>
<line x1="312.2" y1="121.3" x2="402.1" y2="121.3" stroke="#000" stroke-width="4.6"/>
<circle cx="355.8" cy="121.3" r="5.3" fill="#000"/>
<line x1="421.0" y1="165.45" x2="535.1" y2="165.45" stroke="#000" stroke-width="1.6"/>
<line x1="450.0" y1="165.45" x2="504.7" y2="165.45" stroke="#000" stroke-width="4.6"/>
<circle cx="477.2" cy="165.45" r="5.3" fill="#000"/>
<line x1="448.2" y1="209.6" x2="562.2" y2="209.6" stroke="#000" stroke-width="1.6"/>
<line x1="478.2" y1="209.6" x2="533.8" y2="209.6" stroke="#000" stroke-width="4.6"/>
<circle cx="505.8" cy="209.6" r="5.3" fill="#000"/>
<line x1="401.2" y1="253.7" x2="502.5" y2="253.7" stroke="#000" stroke-width="1.6"/>
<line x1="429.0" y1="253.7" x2="476.6" y2="253.7" stroke="#000" stroke-width="4.6"/>
<circle cx="452.3" cy="253.7" r="5.3" fill="#000"/>
<text x="133.58" y="126.90" font-size="14.2" font-weight="bold" fill="#4D4D4D" text-anchor="end" stroke="#4D4D4D" stroke-width="0.2" textLength="103.69" lengthAdjust="spacingAndGlyphs" >Joyous Exploration</text>
<text x="133.05" y="171.05" font-size="14.2" font-weight="bold" fill="#4D4D4D" text-anchor="end" stroke="#4D4D4D" stroke-width="0.2" textLength="123.16" lengthAdjust="spacingAndGlyphs" >Deprivation Sensitivity</text>
<text x="133.32" y="215.20" font-size="14.2" font-weight="bold" fill="#4D4D4D" text-anchor="end" stroke="#4D4D4D" stroke-width="0.2" textLength="92.08" lengthAdjust="spacingAndGlyphs" >Stress Tolerance</text>
<text x="133.62" y="259.30" font-size="14.2" font-weight="bold" fill="#4D4D4D" text-anchor="end" stroke="#4D4D4D" stroke-width="0.2" textLength="75.66" lengthAdjust="spacingAndGlyphs" >Thrill Seeking</text>
<text x="131.84" y="298.20" font-size="14.0" font-weight="normal" fill="#4D4D4D" text-anchor="start" stroke="#4D4D4D" stroke-width="0.25" textLength="35.59" lengthAdjust="spacingAndGlyphs" >-0.015</text>
<text x="225.79" y="298.20" font-size="14.0" font-weight="normal" fill="#4D4D4D" text-anchor="start" stroke="#4D4D4D" stroke-width="0.25" textLength="33.94" lengthAdjust="spacingAndGlyphs" >-0.010</text>
<text x="319.47" y="298.20" font-size="14.0" font-weight="normal" fill="#4D4D4D" text-anchor="start" stroke="#4D4D4D" stroke-width="0.25" textLength="34.19" lengthAdjust="spacingAndGlyphs" >-0.005</text>
<text x="414.51" y="298.20" font-size="14.0" font-weight="normal" fill="#4D4D4D" text-anchor="start" stroke="#4D4D4D" stroke-width="0.25" textLength="30.70" lengthAdjust="spacingAndGlyphs" >0.000</text>
<text x="508.07" y="298.20" font-size="14.0" font-weight="normal" fill="#4D4D4D" text-anchor="start" stroke="#4D4D4D" stroke-width="0.25" textLength="30.81" lengthAdjust="spacingAndGlyphs" >0.005</text>
<text x="601.69" y="298.20" font-size="14.0" font-weight="normal" fill="#4D4D4D" text-anchor="start" stroke="#4D4D4D" stroke-width="0.25" textLength="30.62" lengthAdjust="spacingAndGlyphs" >0.010</text>
<text x="343.26" y="316.80" font-size="15.8" font-weight="normal" fill="#000" text-anchor="start" stroke="#000" stroke-width="0.25" textLength="139.71" lengthAdjust="spacingAndGlyphs" >Weight of Interaction</text>
<text x="-1.30" y="372.90" font-size="21.3" font-weight="bold" fill="#000" text-anchor="start" stroke="#000" stroke-width="0.6" textLength="17.40" lengthAdjust="spacingAndGlyphs" >B.</text>
<text x="21.11" y="372.80" font-size="18.3" font-weight="bold" fill="#000" text-anchor="start" stroke="#000" stroke-width="0.2" textLength="584.74" lengthAdjust="spacingAndGlyphs" >Illustration of impact of stress tolerance on state curiosity-path RE relationship</text>
<text x="114.75" y="419.70" font-size="17.6" font-weight="bold" fill="#1A1A1A" text-anchor="start" stroke="#1A1A1A" stroke-width="0.2" textLength="53.82" lengthAdjust="spacingAndGlyphs" >Low ST</text>
<text x="286.04" y="419.70" font-size="17.6" font-weight="bold" fill="#1A1A1A" text-anchor="start" stroke="#1A1A1A" stroke-width="0.2" textLength="74.44" lengthAdjust="spacingAndGlyphs" >Middle ST</text>
<text x="476.56" y="419.70" font-size="17.6" font-weight="bold" fill="#1A1A1A" text-anchor="start" stroke="#1A1A1A" stroke-width="0.2" textLength="58.21" lengthAdjust="spacingAndGlyphs" >High ST</text>
<line x1="97.2" y1="466.0" x2="182.2" y2="464.9" stroke="#D0D0D0" stroke-width="0.8"/>
<line x1="73.1" y1="488.9" x2="184.8" y2="478.2" stroke="#D0D0D0" stroke-width="0.8"/>
<line x1="92.4" y1="483.3" x2="187.0" y2="482.2" stroke="#D0D0D0" stroke-width="0.8"/>
<line x1="84.1" y1="485.2" x2="173.6" y2="489.4" stroke="#D0D0D0" stroke-width="0.8"/>
<line x1="92.8" y1="483.6" x2="166.8" y2="487.5" stroke="#D0D0D0" stroke-width="0.8"/>
<line x1="66.4" y1="492.0" x2="194.7" y2="521.4" stroke="#D0D0D0" stroke-width="0.8"/>
<line x1="73.1" y1="539.4" x2="200.1" y2="513.6" stroke="#D0D0D0" stroke-width="0.8"/>
<line x1="91.8" y1="528.0" x2="191.4" y2="534.4" stroke="#D0D0D0" stroke-width="0.8"/>
<line x1="91.8" y1="552.6" x2="191.4" y2="528.9" stroke="#D0D0D0" stroke-width="0.8"/>
<line x1="98.3" y1="583.2" x2="198.4" y2="555.2" stroke="#D0D0D0" stroke-width="0.8"/>
<line x1="63.3" y1="579.5" x2="162.9" y2="581.0" stroke="#D0D0D0" stroke-width="0.8"/>
<line x1="130" y1="506.5" x2="187.0" y2="513.1" stroke="#D0D0D0" stroke-width="0.8"/>
<line x1="263.6" y1="473.6" x2="362.1" y2="469.9" stroke="#D0D0D0" stroke-width="0.8"/>
<line x1="254.7" y1="482.6" x2="382.9" y2="469.9" stroke="#D0D0D0" stroke-width="0.8"/>
<line x1="268.0" y1="480.8" x2="367.6" y2="476.4" stroke="#D0D0D0" stroke-width="0.8"/>
<line x1="254.7" y1="487.3" x2="356.7" y2="483.0" stroke="#D0D0D0" stroke-width="0.8"/>
<line x1="257.0" y1="490.8" x2="370.0" y2="481.5" stroke="#D0D0D0" stroke-width="0.8"/>
<line x1="262.8" y1="496.6" x2="300.0" y2="495.5" stroke="#D0D0D0" stroke-width="0.8"/>
<line x1="253.8" y1="530.0" x2="381.9" y2="508.6" stroke="#D0D0D0" stroke-width="0.8"/>
<line x1="265.8" y1="521.7" x2="365.0" y2="522.8" stroke="#D0D0D0" stroke-width="0.8"/>
<line x1="277.8" y1="516.9" x2="374.2" y2="513.6" stroke="#D0D0D0" stroke-width="0.8"/>
<line x1="251.6" y1="570.1" x2="350.8" y2="556.3" stroke="#D0D0D0" stroke-width="0.8"/>
<line x1="328.0" y1="506.0" x2="382.0" y2="508.6" stroke="#D0D0D0" stroke-width="0.8"/>
<line x1="456.3" y1="474.3" x2="542.8" y2="464.9" stroke="#D0D0D0" stroke-width="0.8"/>
<line x1="457.4" y1="476.5" x2="569.0" y2="468.1" stroke="#D0D0D0" stroke-width="0.8"/>
<line x1="447.5" y1="479.5" x2="531.8" y2="472.5" stroke="#D0D0D0" stroke-width="0.8"/>
<line x1="453.0" y1="481.3" x2="552.6" y2="469.9" stroke="#D0D0D0" stroke-width="0.8"/>
<line x1="439.9" y1="489.4" x2="522.0" y2="475.8" stroke="#D0D0D0" stroke-width="0.8"/>
<line x1="451.9" y1="493.3" x2="480.0" y2="492.5" stroke="#D0D0D0" stroke-width="0.8"/>
<line x1="450.8" y1="530.2" x2="564.0" y2="518.0" stroke="#D0D0D0" stroke-width="0.8"/>
<line x1="454.1" y1="525.2" x2="538.4" y2="506.6" stroke="#D0D0D0" stroke-width="0.8"/>
<line x1="473.8" y1="519.7" x2="543.4" y2="511.4" stroke="#D0D0D0" stroke-width="0.8"/>
<line x1="453.0" y1="572.9" x2="566.9" y2="542.0" stroke="#D0D0D0" stroke-width="0.8"/>
<line x1="451.5" y1="613.4" x2="565.3" y2="568.3" stroke="#D0D0D0" stroke-width="0.8"/>
<polygon points="62.95,491.08 64.95,491.11 66.95,491.15 68.94,491.17 70.94,491.20 72.94,491.23 74.94,491.25 76.94,491.27 78.93,491.29 80.93,491.30 82.93,491.31 84.93,491.32 86.93,491.33 88.93,491.34 90.92,491.34 92.92,491.33 94.92,491.33 96.92,491.32 98.92,491.31 100.91,491.29 102.91,491.27 104.91,491.25 106.91,491.23 108.91,491.20 110.90,491.16 112.90,491.12 114.90,491.08 116.90,491.03 118.90,490.98 120.89,490.93 122.89,490.87 124.89,490.80 126.89,490.73 128.89,490.66 130.89,490.58 132.88,490.50 134.88,490.41 136.88,490.31 138.88,490.21 140.88,490.11 142.87,490.00 144.87,489.88 146.87,489.76 148.87,489.63 150.87,489.50 152.86,489.36 154.86,489.22 156.86,489.07 158.86,488.92 160.86,488.76 162.86,488.59 164.85,488.42 166.85,488.24 168.85,488.06 170.85,487.87 172.85,487.68 174.84,487.48 176.84,487.28 178.84,487.07 180.84,486.85 182.84,486.63 184.83,486.41 186.83,486.18 188.83,485.95 190.83,485.71 192.83,485.46 194.82,485.21 196.82,484.96 198.82,484.70 200.82,484.44 202.82,484.17 204.82,483.90 206.81,483.63 208.81,483.35 210.81,483.07 212.81,482.78 214.81,482.49 216.80,482.20 218.80,481.90 220.80,481.60 220.80,512.40 218.80,512.41 216.80,512.42 214.81,512.44 212.81,512.46 210.81,512.48 208.81,512.51 206.81,512.54 204.82,512.57 202.82,512.61 200.82,512.65 198.82,512.70 196.82,512.75 194.82,512.80 192.83,512.86 190.83,512.93 188.83,513.00 186.83,513.07 184.83,513.15 182.84,513.23 180.84,513.32 178.84,513.42 176.84,513.52 174.84,513.62 172.85,513.73 170.85,513.85 168.85,513.97 166.85,514.09 164.85,514.23 162.86,514.36 160.86,514.51 158.86,514.66 156.86,514.81 154.86,514.97 152.86,515.14 150.87,515.31 148.87,515.48 146.87,515.67 144.87,515.85 142.87,516.05 140.88,516.25 138.88,516.45 136.88,516.66 134.88,516.87 132.88,517.09 130.89,517.32 128.89,517.55 126.89,517.78 124.89,518.02 122.89,518.27 120.89,518.52 118.90,518.77 116.90,519.03 114.90,519.29 112.90,519.56 110.90,519.83 108.91,520.10 106.91,520.38 104.91,520.66 102.91,520.95 100.91,521.24 98.92,521.53 96.92,521.83 94.92,522.13 92.92,522.43 90.92,522.74 88.93,523.05 86.93,523.36 84.93,523.68 82.93,524.00 80.93,524.32 78.93,524.64 76.94,524.97 74.94,525.30 72.94,525.63 70.94,525.96 68.94,526.30 66.95,526.64 64.95,526.98 62.95,527.32" fill="rgb(198,224,241)" fill-opacity="0.35"/>
<polygon points="62.95,496.66 64.95,496.64 66.95,496.61 68.94,496.58 70.94,496.55 72.94,496.52 74.94,496.49 76.94,496.46 78.93,496.42 80.93,496.39 82.93,496.35 84.93,496.31 86.93,496.26 88.93,496.22 90.92,496.17 92.92,496.12 94.92,496.07 96.92,496.02 98.92,495.96 100.91,495.90 102.91,495.84 104.91,495.78 106.91,495.71 108.91,495.65 110.90,495.57 112.90,495.50 114.90,495.42 116.90,495.34 118.90,495.26 120.89,495.18 122.89,495.09 124.89,494.99 126.89,494.90 128.89,494.80 130.89,494.70 132.88,494.59 134.88,494.48 136.88,494.37 138.88,494.25 140.88,494.13 142.87,494.01 144.87,493.88 146.87,493.75 148.87,493.61 150.87,493.48 152.86,493.33 154.86,493.19 156.86,493.04 158.86,492.88 160.86,492.72 162.86,492.56 164.85,492.39 166.85,492.22 168.85,492.05 170.85,491.87 172.85,491.69 174.84,491.51 176.84,491.32 178.84,491.13 180.84,490.93 182.84,490.73 184.83,490.53 186.83,490.32 188.83,490.11 190.83,489.90 192.83,489.68 194.82,489.46 196.82,489.24 198.82,489.01 200.82,488.78 202.82,488.55 204.82,488.32 206.81,488.08 208.81,487.84 210.81,487.59 212.81,487.35 214.81,487.10 216.80,486.85 218.80,486.60 220.80,486.34 220.80,507.66 218.80,507.71 216.80,507.77 214.81,507.83 212.81,507.89 210.81,507.95 208.81,508.02 206.81,508.08 204.82,508.16 202.82,508.23 200.82,508.31 198.82,508.39 196.82,508.47 194.82,508.55 192.83,508.64 190.83,508.74 188.83,508.83 186.83,508.93 184.83,509.03 182.84,509.14 180.84,509.25 178.84,509.36 176.84,509.48 174.84,509.60 172.85,509.72 170.85,509.85 168.85,509.98 166.85,510.11 164.85,510.25 162.86,510.40 160.86,510.54 158.86,510.69 156.86,510.85 154.86,511.01 152.86,511.17 150.87,511.33 148.87,511.50 146.87,511.68 144.87,511.86 142.87,512.04 140.88,512.22 138.88,512.41 136.88,512.60 134.88,512.80 132.88,513.00 130.89,513.20 128.89,513.41 126.89,513.62 124.89,513.83 122.89,514.05 120.89,514.27 118.90,514.49 116.90,514.72 114.90,514.95 112.90,515.18 110.90,515.41 108.91,515.65 106.91,515.89 104.91,516.13 102.91,516.38 100.91,516.63 98.92,516.88 96.92,517.13 94.92,517.39 92.92,517.64 90.92,517.90 88.93,518.17 86.93,518.43 84.93,518.70 82.93,518.96 80.93,519.23 78.93,519.51 76.94,519.78 74.94,520.05 72.94,520.33 70.94,520.61 68.94,520.89 66.95,521.17 64.95,521.46 62.95,521.74" fill="rgb(178,219,232)" fill-opacity="0.4"/>
<polygon points="62.95,500.60 64.95,500.53 66.95,500.47 68.94,500.40 70.94,500.33 72.94,500.26 74.94,500.19 76.94,500.12 78.93,500.05 80.93,499.98 82.93,499.90 84.93,499.82 86.93,499.75 88.93,499.67 90.92,499.59 92.92,499.50 94.92,499.42 96.92,499.33 98.92,499.25 100.91,499.16 102.91,499.07 104.91,498.98 106.91,498.88 108.91,498.79 110.90,498.69 112.90,498.59 114.90,498.49 116.90,498.39 118.90,498.28 120.89,498.17 122.89,498.07 124.89,497.95 126.89,497.84 128.89,497.72 130.89,497.60 132.88,497.48 134.88,497.36 136.88,497.23 138.88,497.11 140.88,496.97 142.87,496.84 144.87,496.70 146.87,496.57 148.87,496.43 150.87,496.28 152.86,496.13 154.86,495.99 156.86,495.83 158.86,495.68 160.86,495.52 162.86,495.36 164.85,495.20 166.85,495.04 168.85,494.87 170.85,494.70 172.85,494.52 174.84,494.35 176.84,494.17 178.84,493.99 180.84,493.81 182.84,493.62 184.83,493.43 186.83,493.24 188.83,493.05 190.83,492.86 192.83,492.66 194.82,492.46 196.82,492.26 198.82,492.06 200.82,491.85 202.82,491.64 204.82,491.43 206.81,491.22 208.81,491.01 210.81,490.79 212.81,490.58 214.81,490.36 216.80,490.14 218.80,489.91 220.80,489.69 220.80,504.31 218.80,504.40 216.80,504.48 214.81,504.57 212.81,504.66 210.81,504.75 208.81,504.85 206.81,504.94 204.82,505.04 202.82,505.14 200.82,505.24 198.82,505.34 196.82,505.45 194.82,505.56 192.83,505.66 190.83,505.78 188.83,505.89 186.83,506.01 184.83,506.13 182.84,506.25 180.84,506.37 178.84,506.50 176.84,506.62 174.84,506.76 172.85,506.89 170.85,507.02 168.85,507.16 166.85,507.30 164.85,507.45 162.86,507.59 160.86,507.74 158.86,507.90 156.86,508.05 154.86,508.21 152.86,508.37 150.87,508.53 148.87,508.69 146.87,508.86 144.87,509.03 142.87,509.20 140.88,509.38 138.88,509.56 136.88,509.74 134.88,509.92 132.88,510.11 130.89,510.29 128.89,510.48 126.89,510.68 124.89,510.87 122.89,511.07 120.89,511.27 118.90,511.47 116.90,511.67 114.90,511.88 112.90,512.09 110.90,512.30 108.91,512.51 106.91,512.72 104.91,512.94 102.91,513.15 100.91,513.37 98.92,513.59 96.92,513.81 94.92,514.04 92.92,514.26 90.92,514.49 88.93,514.72 86.93,514.95 84.93,515.18 82.93,515.41 80.93,515.64 78.93,515.88 76.94,516.12 74.94,516.35 72.94,516.59 70.94,516.83 68.94,517.07 66.95,517.31 64.95,517.56 62.95,517.80" fill="rgb(130,198,227)" fill-opacity="0.5"/>
<line x1="62.95" y1="509.2" x2="220.80" y2="497.0" stroke="#38ACDC" stroke-width="1.9"/>
<polygon points="244.75,495.24 246.75,495.09 248.75,494.94 250.74,494.79 252.74,494.64 254.74,494.49 256.74,494.33 258.74,494.17 260.73,494.01 262.73,493.85 264.73,493.68 266.73,493.52 268.73,493.34 270.73,493.17 272.72,493.00 274.72,492.82 276.72,492.63 278.72,492.45 280.72,492.26 282.71,492.07 284.71,491.88 286.71,491.68 288.71,491.48 290.71,491.27 292.70,491.06 294.70,490.85 296.70,490.64 298.70,490.42 300.70,490.19 302.69,489.96 304.69,489.73 306.69,489.50 308.69,489.26 310.69,489.01 312.69,488.76 314.68,488.51 316.68,488.25 318.68,487.99 320.68,487.72 322.68,487.45 324.67,487.17 326.67,486.89 328.67,486.60 330.67,486.31 332.67,486.01 334.66,485.71 336.66,485.40 338.66,485.09 340.66,484.77 342.66,484.45 344.66,484.12 346.65,483.79 348.65,483.45 350.65,483.10 352.65,482.75 354.65,482.40 356.64,482.04 358.64,481.68 360.64,481.31 362.64,480.93 364.64,480.55 366.63,480.17 368.63,479.78 370.63,479.39 372.63,478.99 374.63,478.58 376.62,478.18 378.62,477.76 380.62,477.35 382.62,476.93 384.62,476.50 386.62,476.07 388.61,475.64 390.61,475.20 392.61,474.76 394.61,474.31 396.61,473.87 398.60,473.41 400.60,472.96 402.60,472.50 402.60,503.30 400.60,503.50 398.60,503.70 396.61,503.91 394.61,504.12 392.61,504.33 390.61,504.55 388.61,504.77 386.62,504.99 384.62,505.22 382.62,505.46 380.62,505.69 378.62,505.93 376.62,506.18 374.63,506.43 372.63,506.69 370.63,506.95 368.63,507.21 366.63,507.48 364.64,507.75 362.64,508.03 360.64,508.32 358.64,508.60 356.64,508.90 354.65,509.20 352.65,509.50 350.65,509.81 348.65,510.13 346.65,510.44 344.66,510.77 342.66,511.10 340.66,511.43 338.66,511.77 336.66,512.12 334.66,512.47 332.67,512.83 330.67,513.19 328.67,513.55 326.67,513.92 324.67,514.30 322.68,514.68 320.68,515.07 318.68,515.46 316.68,515.85 314.68,516.25 312.69,516.66 310.69,517.07 308.69,517.48 306.69,517.90 304.69,518.32 302.69,518.75 300.70,519.18 298.70,519.61 296.70,520.05 294.70,520.49 292.70,520.94 290.71,521.39 288.71,521.84 286.71,522.30 284.71,522.76 282.71,523.22 280.72,523.69 278.72,524.16 276.72,524.63 274.72,525.11 272.72,525.59 270.73,526.07 268.73,526.56 266.73,527.04 264.73,527.53 262.73,528.03 260.73,528.52 258.74,529.02 256.74,529.52 254.74,530.02 252.74,530.53 250.74,531.03 248.75,531.54 246.75,532.05 244.75,532.56" fill="rgb(198,224,241)" fill-opacity="0.35"/>
<polygon points="244.75,500.98 246.75,500.78 248.75,500.58 250.74,500.37 252.74,500.17 254.74,499.96 256.74,499.75 258.74,499.54 260.73,499.33 262.73,499.11 264.73,498.90 266.73,498.68 268.73,498.46 270.73,498.24 272.72,498.01 274.72,497.79 276.72,497.56 278.72,497.33 280.72,497.10 282.71,496.87 284.71,496.63 286.71,496.39 288.71,496.15 290.71,495.91 292.70,495.66 294.70,495.42 296.70,495.16 298.70,494.91 300.70,494.66 302.69,494.40 304.69,494.13 306.69,493.87 308.69,493.60 310.69,493.33 312.69,493.06 314.68,492.78 316.68,492.50 318.68,492.22 320.68,491.93 322.68,491.64 324.67,491.35 326.67,491.05 328.67,490.75 330.67,490.45 332.67,490.14 334.66,489.83 336.66,489.52 338.66,489.20 340.66,488.88 342.66,488.55 344.66,488.22 346.65,487.89 348.65,487.55 350.65,487.22 352.65,486.87 354.65,486.53 356.64,486.18 358.64,485.82 360.64,485.47 362.64,485.10 364.64,484.74 366.63,484.37 368.63,484.00 370.63,483.63 372.63,483.25 374.63,482.87 376.62,482.49 378.62,482.10 380.62,481.71 382.62,481.32 384.62,480.92 386.62,480.53 388.61,480.12 390.61,479.72 392.61,479.31 394.61,478.90 396.61,478.49 398.60,478.08 400.60,477.66 402.60,477.24 402.60,498.56 400.60,498.80 398.60,499.04 396.61,499.28 394.61,499.53 392.61,499.78 390.61,500.03 388.61,500.28 386.62,500.54 384.62,500.80 382.62,501.06 380.62,501.33 378.62,501.60 376.62,501.87 374.63,502.14 372.63,502.42 370.63,502.70 368.63,502.99 366.63,503.27 364.64,503.57 362.64,503.86 360.64,504.16 358.64,504.46 356.64,504.76 354.65,505.07 352.65,505.38 350.65,505.70 348.65,506.02 346.65,506.34 344.66,506.67 342.66,507.00 340.66,507.33 338.66,507.67 336.66,508.01 334.66,508.35 332.67,508.70 330.67,509.05 328.67,509.40 326.67,509.76 324.67,510.12 322.68,510.49 320.68,510.86 318.68,511.23 316.68,511.60 314.68,511.98 312.69,512.36 310.69,512.75 308.69,513.13 306.69,513.52 304.69,513.92 302.69,514.31 300.70,514.71 298.70,515.12 296.70,515.52 294.70,515.93 292.70,516.34 290.71,516.75 288.71,517.17 286.71,517.58 284.71,518.00 282.71,518.43 280.72,518.85 278.72,519.28 276.72,519.71 274.72,520.14 272.72,520.57 270.73,521.01 268.73,521.44 266.73,521.88 264.73,522.32 262.73,522.76 260.73,523.21 258.74,523.65 256.74,524.10 254.74,524.55 252.74,525.00 250.74,525.45 248.75,525.91 246.75,526.36 244.75,526.82" fill="rgb(178,219,232)" fill-opacity="0.4"/>
<polygon points="244.75,505.04 246.75,504.80 248.75,504.56 250.74,504.31 252.74,504.07 254.74,503.82 256.74,503.57 258.74,503.33 260.73,503.08 262.73,502.83 264.73,502.58 266.73,502.32 268.73,502.07 270.73,501.81 272.72,501.56 274.72,501.30 276.72,501.04 278.72,500.78 280.72,500.52 282.71,500.25 284.71,499.99 286.71,499.72 288.71,499.45 290.71,499.18 292.70,498.91 294.70,498.64 296.70,498.36 298.70,498.09 300.70,497.81 302.69,497.53 304.69,497.24 306.69,496.96 308.69,496.67 310.69,496.38 312.69,496.09 314.68,495.80 316.68,495.50 318.68,495.20 320.68,494.90 322.68,494.60 324.67,494.30 326.67,493.99 328.67,493.68 330.67,493.37 332.67,493.06 334.66,492.74 336.66,492.42 338.66,492.10 340.66,491.78 342.66,491.45 344.66,491.12 346.65,490.79 348.65,490.46 350.65,490.12 352.65,489.78 354.65,489.44 356.64,489.10 358.64,488.75 360.64,488.40 362.64,488.05 364.64,487.70 366.63,487.34 368.63,486.99 370.63,486.63 372.63,486.26 374.63,485.90 376.62,485.53 378.62,485.16 380.62,484.79 382.62,484.42 384.62,484.05 386.62,483.67 388.61,483.29 390.61,482.91 392.61,482.53 394.61,482.14 396.61,481.76 398.60,481.37 400.60,480.98 402.60,480.59 402.60,495.21 400.60,495.48 398.60,495.75 396.61,496.02 394.61,496.29 392.61,496.56 390.61,496.84 388.61,497.12 386.62,497.40 384.62,497.68 382.62,497.96 380.62,498.25 378.62,498.53 376.62,498.82 374.63,499.12 372.63,499.41 370.63,499.71 368.63,500.00 366.63,500.31 364.64,500.61 362.64,500.91 360.64,501.22 358.64,501.53 356.64,501.84 354.65,502.16 352.65,502.48 350.65,502.79 348.65,503.12 346.65,503.44 344.66,503.77 342.66,504.10 340.66,504.43 338.66,504.76 336.66,505.10 334.66,505.44 332.67,505.78 330.67,506.13 328.67,506.47 326.67,506.82 324.67,507.17 322.68,507.53 320.68,507.88 318.68,508.24 316.68,508.60 314.68,508.96 312.69,509.33 310.69,509.70 308.69,510.07 306.69,510.44 304.69,510.81 302.69,511.19 300.70,511.56 298.70,511.94 296.70,512.32 294.70,512.71 292.70,513.09 290.71,513.48 288.71,513.87 286.71,514.26 284.71,514.65 282.71,515.04 280.72,515.43 278.72,515.83 276.72,516.23 274.72,516.63 272.72,517.03 270.73,517.43 268.73,517.83 266.73,518.24 264.73,518.64 262.73,519.05 260.73,519.46 258.74,519.87 256.74,520.28 254.74,520.69 252.74,521.10 250.74,521.51 248.75,521.93 246.75,522.34 244.75,522.76" fill="rgb(130,198,227)" fill-opacity="0.5"/>
<line x1="244.75" y1="513.9" x2="402.60" y2="487.9" stroke="#38ACDC" stroke-width="1.9"/>
<polygon points="427.10,496.34 429.10,496.08 431.10,495.81 433.09,495.55 435.09,495.28 437.09,495.01 439.09,494.74 441.09,494.46 443.08,494.18 445.08,493.90 447.08,493.62 449.08,493.33 451.08,493.04 453.08,492.75 455.07,492.45 457.07,492.15 459.07,491.84 461.07,491.54 463.07,491.22 465.06,490.91 467.06,490.59 469.06,490.27 471.06,489.94 473.06,489.61 475.05,489.27 477.05,488.93 479.05,488.59 481.05,488.24 483.05,487.88 485.04,487.52 487.04,487.16 489.04,486.79 491.04,486.42 493.04,486.04 495.04,485.65 497.03,485.26 499.03,484.87 501.03,484.46 503.03,484.06 505.03,483.64 507.02,483.23 509.02,482.80 511.02,482.37 513.02,481.93 515.02,481.49 517.01,481.04 519.01,480.59 521.01,480.13 523.01,479.66 525.01,479.19 527.01,478.71 529.00,478.23 531.00,477.73 533.00,477.24 535.00,476.73 537.00,476.22 538.99,475.71 540.99,475.19 542.99,474.66 544.99,474.13 546.99,473.59 548.98,473.05 550.98,472.50 552.98,471.94 554.98,471.38 556.98,470.81 558.97,470.24 560.97,469.67 562.97,469.08 564.97,468.50 566.97,467.91 568.97,467.31 570.96,466.71 572.96,466.10 574.96,465.49 576.96,464.88 578.96,464.26 580.95,463.64 582.95,463.01 584.95,462.38 584.95,498.62 582.95,498.94 580.95,499.26 578.96,499.58 576.96,499.91 574.96,500.24 572.96,500.58 570.96,500.92 568.97,501.27 566.97,501.62 564.97,501.97 562.97,502.33 560.97,502.70 558.97,503.07 556.98,503.44 554.98,503.82 552.98,504.21 550.98,504.60 548.98,505.00 546.99,505.40 544.99,505.81 542.99,506.22 540.99,506.64 538.99,507.07 537.00,507.50 535.00,507.94 533.00,508.38 531.00,508.83 529.00,509.29 527.01,509.75 525.01,510.22 523.01,510.69 521.01,511.17 519.01,511.66 517.01,512.15 515.02,512.65 513.02,513.15 511.02,513.66 509.02,514.18 507.02,514.70 505.03,515.23 503.03,515.76 501.03,516.30 499.03,516.85 497.03,517.40 495.04,517.96 493.04,518.52 491.04,519.09 489.04,519.66 487.04,520.24 485.04,520.82 483.05,521.41 481.05,522.00 479.05,522.60 477.05,523.20 475.05,523.80 473.06,524.42 471.06,525.03 469.06,525.65 467.06,526.27 465.06,526.90 463.07,527.53 461.07,528.17 459.07,528.81 457.07,529.45 455.07,530.10 453.08,530.75 451.08,531.40 449.08,532.06 447.08,532.71 445.08,533.38 443.08,534.04 441.09,534.71 439.09,535.38 437.09,536.06 435.09,536.73 433.09,537.41 431.10,538.09 429.10,538.78 427.10,539.46" fill="rgb(198,224,241)" fill-opacity="0.35"/>
<polygon points="427.10,502.98 429.10,502.65 431.10,502.32 433.09,501.99 435.09,501.66 437.09,501.33 439.09,501.00 441.09,500.66 443.08,500.32 445.08,499.98 447.08,499.64 449.08,499.29 451.08,498.95 453.08,498.60 455.07,498.24 457.07,497.89 459.07,497.53 461.07,497.18 463.07,496.81 465.06,496.45 467.06,496.08 469.06,495.71 471.06,495.34 473.06,494.97 475.05,494.59 477.05,494.21 479.05,493.82 481.05,493.44 483.05,493.04 485.04,492.65 487.04,492.25 489.04,491.85 491.04,491.45 493.04,491.04 495.04,490.63 497.03,490.21 499.03,489.79 501.03,489.37 503.03,488.94 505.03,488.51 507.02,488.07 509.02,487.63 511.02,487.19 513.02,486.74 515.02,486.29 517.01,485.83 519.01,485.37 521.01,484.91 523.01,484.44 525.01,483.97 527.01,483.49 529.00,483.01 531.00,482.52 533.00,482.03 535.00,481.54 537.00,481.04 538.99,480.54 540.99,480.03 542.99,479.52 544.99,479.01 546.99,478.49 548.98,477.97 550.98,477.44 552.98,476.91 554.98,476.38 556.98,475.84 558.97,475.30 560.97,474.75 562.97,474.20 564.97,473.65 566.97,473.10 568.97,472.54 570.96,471.98 572.96,471.41 574.96,470.84 576.96,470.27 578.96,469.70 580.95,469.12 582.95,468.54 584.95,467.96 584.95,493.04 582.95,493.40 580.95,493.77 578.96,494.14 576.96,494.51 574.96,494.89 572.96,495.27 570.96,495.65 568.97,496.04 566.97,496.43 564.97,496.82 562.97,497.21 560.97,497.61 558.97,498.01 556.98,498.42 554.98,498.83 552.98,499.24 550.98,499.66 548.98,500.08 546.99,500.50 544.99,500.93 542.99,501.36 540.99,501.80 538.99,502.24 537.00,502.68 535.00,503.13 533.00,503.59 531.00,504.04 529.00,504.50 527.01,504.97 525.01,505.44 523.01,505.91 521.01,506.39 519.01,506.87 517.01,507.36 515.02,507.85 513.02,508.34 511.02,508.84 509.02,509.35 507.02,509.85 505.03,510.37 503.03,510.88 501.03,511.40 499.03,511.92 497.03,512.45 495.04,512.98 493.04,513.52 491.04,514.06 489.04,514.60 487.04,515.14 485.04,515.69 483.05,516.24 481.05,516.80 479.05,517.36 477.05,517.92 475.05,518.49 473.06,519.06 471.06,519.63 469.06,520.20 467.06,520.78 465.06,521.36 463.07,521.94 461.07,522.53 459.07,523.12 457.07,523.71 455.07,524.30 453.08,524.89 451.08,525.49 449.08,526.09 447.08,526.69 445.08,527.30 443.08,527.91 441.09,528.51 439.09,529.12 437.09,529.74 435.09,530.35 433.09,530.97 431.10,531.58 429.10,532.20 427.10,532.82" fill="rgb(178,219,232)" fill-opacity="0.4"/>
<polygon points="427.10,507.67 429.10,507.29 431.10,506.92 433.09,506.55 435.09,506.17 437.09,505.79 439.09,505.41 441.09,505.03 443.08,504.65 445.08,504.27 447.08,503.89 449.08,503.50 451.08,503.12 453.08,502.73 455.07,502.34 457.07,501.95 459.07,501.55 461.07,501.16 463.07,500.76 465.06,500.36 467.06,499.96 469.06,499.56 471.06,499.16 473.06,498.75 475.05,498.34 477.05,497.93 479.05,497.52 481.05,497.11 483.05,496.69 485.04,496.27 487.04,495.85 489.04,495.42 491.04,495.00 493.04,494.57 495.04,494.14 497.03,493.70 499.03,493.27 501.03,492.83 503.03,492.39 505.03,491.94 507.02,491.49 509.02,491.04 511.02,490.59 513.02,490.14 515.02,489.68 517.01,489.21 519.01,488.75 521.01,488.28 523.01,487.81 525.01,487.34 527.01,486.86 529.00,486.38 531.00,485.90 533.00,485.42 535.00,484.93 537.00,484.44 538.99,483.95 540.99,483.45 542.99,482.95 544.99,482.45 546.99,481.95 548.98,481.44 550.98,480.93 552.98,480.42 554.98,479.90 556.98,479.38 558.97,478.86 560.97,478.34 562.97,477.82 564.97,477.29 566.97,476.76 568.97,476.23 570.96,475.70 572.96,475.16 574.96,474.62 576.96,474.08 578.96,473.54 580.95,472.99 582.95,472.45 584.95,471.90 584.95,489.10 582.95,489.50 580.95,489.90 578.96,490.30 576.96,490.71 574.96,491.11 572.96,491.52 570.96,491.93 568.97,492.35 566.97,492.76 564.97,493.18 562.97,493.60 560.97,494.02 558.97,494.44 556.98,494.87 554.98,495.30 552.98,495.73 550.98,496.17 548.98,496.60 546.99,497.04 544.99,497.49 542.99,497.93 540.99,498.38 538.99,498.83 537.00,499.28 535.00,499.74 533.00,500.20 531.00,500.66 529.00,501.13 527.01,501.59 525.01,502.07 523.01,502.54 521.01,503.02 519.01,503.50 517.01,503.98 515.02,504.46 513.02,504.95 511.02,505.44 509.02,505.94 507.02,506.43 505.03,506.93 503.03,507.43 501.03,507.94 499.03,508.45 497.03,508.96 495.04,509.47 493.04,509.99 491.04,510.50 489.04,511.02 487.04,511.55 485.04,512.07 483.05,512.60 481.05,513.13 479.05,513.66 477.05,514.20 475.05,514.73 473.06,515.27 471.06,515.81 469.06,516.36 467.06,516.90 465.06,517.45 463.07,517.99 461.07,518.55 459.07,519.10 457.07,519.65 455.07,520.21 453.08,520.76 451.08,521.32 449.08,521.88 447.08,522.44 445.08,523.01 443.08,523.57 441.09,524.14 439.09,524.70 437.09,525.27 435.09,525.84 433.09,526.41 431.10,526.99 429.10,527.56 427.10,528.13" fill="rgb(130,198,227)" fill-opacity="0.5"/>
<line x1="427.10" y1="517.9" x2="584.95" y2="480.5" stroke="#38ACDC" stroke-width="1.9"/>
<line x1="55.00" y1="638.4" x2="228.30" y2="638.4" stroke="#333333" stroke-width="1.1"/>
<line x1="66.35" y1="638.4" x2="66.35" y2="643.00" stroke="#333333" stroke-width="1.1"/>
<text x="60.93" y="656.00" font-size="13.7" font-weight="normal" fill="#4D4D4D" text-anchor="start" stroke="#4D4D4D" stroke-width="0.25" textLength="10.82" lengthAdjust="spacingAndGlyphs" >-5</text>
<line x1="80.62" y1="638.4" x2="80.62" y2="643.00" stroke="#333333" stroke-width="1.1"/>
<text x="74.68" y="656.00" font-size="13.7" font-weight="normal" fill="#4D4D4D" text-anchor="start" stroke="#4D4D4D" stroke-width="0.25" textLength="11.02" lengthAdjust="spacingAndGlyphs" >-4</text>
<line x1="94.89" y1="638.4" x2="94.89" y2="643.00" stroke="#333333" stroke-width="1.1"/>
<text x="89.69" y="656.00" font-size="13.7" font-weight="normal" fill="#4D4D4D" text-anchor="start" stroke="#4D4D4D" stroke-width="0.25" textLength="10.19" lengthAdjust="spacingAndGlyphs" >-3</text>
<line x1="109.16" y1="638.4" x2="109.16" y2="643.00" stroke="#333333" stroke-width="1.1"/>
<text x="104.00" y="656.00" font-size="13.7" font-weight="normal" fill="#4D4D4D" text-anchor="start" stroke="#4D4D4D" stroke-width="0.25" textLength="10.44" lengthAdjust="spacingAndGlyphs" >-2</text>
<line x1="123.43" y1="638.4" x2="123.43" y2="643.00" stroke="#333333" stroke-width="1.1"/>
<text x="117.98" y="656.00" font-size="13.7" font-weight="normal" fill="#4D4D4D" text-anchor="start" stroke="#4D4D4D" stroke-width="0.25" textLength="10.00" lengthAdjust="spacingAndGlyphs" >-1</text>
<line x1="137.70" y1="638.4" x2="137.70" y2="643.00" stroke="#333333" stroke-width="1.1"/>
<text x="134.12" y="656.00" font-size="13.7" font-weight="normal" fill="#4D4D4D" text-anchor="start" stroke="#4D4D4D" stroke-width="0.25" textLength="7.02" lengthAdjust="spacingAndGlyphs" >0</text>
<line x1="151.97" y1="638.4" x2="151.97" y2="643.00" stroke="#333333" stroke-width="1.1"/>
<text x="149.15" y="656.00" font-size="13.7" font-weight="normal" fill="#4D4D4D" text-anchor="start" stroke="#4D4D4D" stroke-width="0.25" textLength="4.73" lengthAdjust="spacingAndGlyphs" >1</text>
<line x1="166.24" y1="638.4" x2="166.24" y2="643.00" stroke="#333333" stroke-width="1.1"/>
<text x="162.44" y="656.00" font-size="13.7" font-weight="normal" fill="#4D4D4D" text-anchor="start" stroke="#4D4D4D" stroke-width="0.25" textLength="7.39" lengthAdjust="spacingAndGlyphs" >2</text>
<line x1="180.51" y1="638.4" x2="180.51" y2="643.00" stroke="#333333" stroke-width="1.1"/>
<text x="176.99" y="656.00" font-size="13.7" font-weight="normal" fill="#4D4D4D" text-anchor="start" stroke="#4D4D4D" stroke-width="0.25" textLength="6.91" lengthAdjust="spacingAndGlyphs" >3</text>
<line x1="194.78" y1="638.4" x2="194.78" y2="643.00" stroke="#333333" stroke-width="1.1"/>
<text x="191.21" y="656.00" font-size="13.7" font-weight="normal" fill="#4D4D4D" text-anchor="start" stroke="#4D4D4D" stroke-width="0.25" textLength="6.91" lengthAdjust="spacingAndGlyphs" >4</text>
<line x1="209.05" y1="638.4" x2="209.05" y2="643.00" stroke="#333333" stroke-width="1.1"/>
<text x="205.42" y="656.00" font-size="13.7" font-weight="normal" fill="#4D4D4D" text-anchor="start" stroke="#4D4D4D" stroke-width="0.25" textLength="7.29" lengthAdjust="spacingAndGlyphs" >5</text>
<line x1="223.32" y1="638.4" x2="223.32" y2="643.00" stroke="#333333" stroke-width="1.1"/>
<text x="219.23" y="656.00" font-size="13.7" font-weight="normal" fill="#4D4D4D" text-anchor="start" stroke="#4D4D4D" stroke-width="0.25" textLength="7.75" lengthAdjust="spacingAndGlyphs" >6</text>
<line x1="237.60" y1="638.4" x2="410.90" y2="638.4" stroke="#333333" stroke-width="1.1"/>
<line x1="248.15" y1="638.4" x2="248.15" y2="643.00" stroke="#333333" stroke-width="1.1"/>
<text x="242.72" y="656.00" font-size="13.7" font-weight="normal" fill="#4D4D4D" text-anchor="start" stroke="#4D4D4D" stroke-width="0.25" textLength="10.81" lengthAdjust="spacingAndGlyphs" >-5</text>
<line x1="262.42" y1="638.4" x2="262.42" y2="643.00" stroke="#333333" stroke-width="1.1"/>
<text x="256.94" y="656.00" font-size="13.7" font-weight="normal" fill="#4D4D4D" text-anchor="start" stroke="#4D4D4D" stroke-width="0.25" textLength="11.01" lengthAdjust="spacingAndGlyphs" >-4</text>
<line x1="276.69" y1="638.4" x2="276.69" y2="643.00" stroke="#333333" stroke-width="1.1"/>
<text x="271.18" y="656.00" font-size="13.7" font-weight="normal" fill="#4D4D4D" text-anchor="start" stroke="#4D4D4D" stroke-width="0.25" textLength="10.61" lengthAdjust="spacingAndGlyphs" >-3</text>
<line x1="290.96" y1="638.4" x2="290.96" y2="643.00" stroke="#333333" stroke-width="1.1"/>
<text x="285.65" y="656.00" font-size="13.7" font-weight="normal" fill="#4D4D4D" text-anchor="start" stroke="#4D4D4D" stroke-width="0.25" textLength="10.52" lengthAdjust="spacingAndGlyphs" >-2</text>
<line x1="305.23" y1="638.4" x2="305.23" y2="643.00" stroke="#333333" stroke-width="1.1"/>
<text x="300.31" y="656.00" font-size="13.7" font-weight="normal" fill="#4D4D4D" text-anchor="start" stroke="#4D4D4D" stroke-width="0.25" textLength="9.28" lengthAdjust="spacingAndGlyphs" >-1</text>
<line x1="319.50" y1="638.4" x2="319.50" y2="643.00" stroke="#333333" stroke-width="1.1"/>
<text x="316.08" y="656.00" font-size="13.7" font-weight="normal" fill="#4D4D4D" text-anchor="start" stroke="#4D4D4D" stroke-width="0.25" textLength="7.64" lengthAdjust="spacingAndGlyphs" >0</text>
<line x1="333.77" y1="638.4" x2="333.77" y2="643.00" stroke="#333333" stroke-width="1.1"/>
<text x="331.10" y="656.00" font-size="13.7" font-weight="normal" fill="#4D4D4D" text-anchor="start" stroke="#4D4D4D" stroke-width="0.25" textLength="4.40" lengthAdjust="spacingAndGlyphs" >1</text>
<line x1="348.04" y1="638.4" x2="348.04" y2="643.00" stroke="#333333" stroke-width="1.1"/>
<text x="344.21" y="656.00" font-size="13.7" font-weight="normal" fill="#4D4D4D" text-anchor="start" stroke="#4D4D4D" stroke-width="0.25" textLength="7.88" lengthAdjust="spacingAndGlyphs" >2</text>
<line x1="362.31" y1="638.4" x2="362.31" y2="643.00" stroke="#333333" stroke-width="1.1"/>
<text x="358.89" y="656.00" font-size="13.7" font-weight="normal" fill="#4D4D4D" text-anchor="start" stroke="#4D4D4D" stroke-width="0.25" textLength="6.81" lengthAdjust="spacingAndGlyphs" >3</text>
<line x1="376.58" y1="638.4" x2="376.58" y2="643.00" stroke="#333333" stroke-width="1.1"/>
<text x="372.82" y="656.00" font-size="13.7" font-weight="normal" fill="#4D4D4D" text-anchor="start" stroke="#4D4D4D" stroke-width="0.25" textLength="6.86" lengthAdjust="spacingAndGlyphs" >4</text>
<line x1="390.85" y1="638.4" x2="390.85" y2="643.00" stroke="#333333" stroke-width="1.1"/>
<text x="387.13" y="656.00" font-size="13.7" font-weight="normal" fill="#4D4D4D" text-anchor="start" stroke="#4D4D4D" stroke-width="0.25" textLength="6.95" lengthAdjust="spacingAndGlyphs" >5</text>
<line x1="405.12" y1="638.4" x2="405.12" y2="643.00" stroke="#333333" stroke-width="1.1"/>
<text x="401.74" y="656.00" font-size="13.7" font-weight="normal" fill="#4D4D4D" text-anchor="start" stroke="#4D4D4D" stroke-width="0.25" textLength="7.14" lengthAdjust="spacingAndGlyphs" >6</text>
<line x1="419.60" y1="638.4" x2="592.90" y2="638.4" stroke="#333333" stroke-width="1.1"/>
<line x1="430.50" y1="638.4" x2="430.50" y2="643.00" stroke="#333333" stroke-width="1.1"/>
<text x="425.15" y="656.00" font-size="13.7" font-weight="normal" fill="#4D4D4D" text-anchor="start" stroke="#4D4D4D" stroke-width="0.25" textLength="10.56" lengthAdjust="spacingAndGlyphs" >-5</text>
<line x1="444.77" y1="638.4" x2="444.77" y2="643.00" stroke="#333333" stroke-width="1.1"/>
<text x="439.31" y="656.00" font-size="13.7" font-weight="normal" fill="#4D4D4D" text-anchor="start" stroke="#4D4D4D" stroke-width="0.25" textLength="10.62" lengthAdjust="spacingAndGlyphs" >-4</text>
<line x1="459.04" y1="638.4" x2="459.04" y2="643.00" stroke="#333333" stroke-width="1.1"/>
<text x="453.85" y="656.00" font-size="13.7" font-weight="normal" fill="#4D4D4D" text-anchor="start" stroke="#4D4D4D" stroke-width="0.25" textLength="10.18" lengthAdjust="spacingAndGlyphs" >-3</text>
<line x1="473.31" y1="638.4" x2="473.31" y2="643.00" stroke="#333333" stroke-width="1.1"/>
<text x="468.19" y="656.00" font-size="13.7" font-weight="normal" fill="#4D4D4D" text-anchor="start" stroke="#4D4D4D" stroke-width="0.25" textLength="10.83" lengthAdjust="spacingAndGlyphs" >-2</text>
<line x1="487.58" y1="638.4" x2="487.58" y2="643.00" stroke="#333333" stroke-width="1.1"/>
<text x="482.33" y="656.00" font-size="13.7" font-weight="normal" fill="#4D4D4D" text-anchor="start" stroke="#4D4D4D" stroke-width="0.25" textLength="9.77" lengthAdjust="spacingAndGlyphs" >-1</text>
<line x1="501.85" y1="638.4" x2="501.85" y2="643.00" stroke="#333333" stroke-width="1.1"/>
<text x="498.40" y="656.00" font-size="13.7" font-weight="normal" fill="#4D4D4D" text-anchor="start" stroke="#4D4D4D" stroke-width="0.25" textLength="7.17" lengthAdjust="spacingAndGlyphs" >0</text>
<line x1="516.12" y1="638.4" x2="516.12" y2="643.00" stroke="#333333" stroke-width="1.1"/>
<text x="513.09" y="656.00" font-size="13.7" font-weight="normal" fill="#4D4D4D" text-anchor="start" stroke="#4D4D4D" stroke-width="0.25" textLength="4.95" lengthAdjust="spacingAndGlyphs" >1</text>
<line x1="530.39" y1="638.4" x2="530.39" y2="643.00" stroke="#333333" stroke-width="1.1"/>
<text x="526.60" y="656.00" font-size="13.7" font-weight="normal" fill="#4D4D4D" text-anchor="start" stroke="#4D4D4D" stroke-width="0.25" textLength="7.36" lengthAdjust="spacingAndGlyphs" >2</text>
<line x1="544.66" y1="638.4" x2="544.66" y2="643.00" stroke="#333333" stroke-width="1.1"/>
<text x="541.08" y="656.00" font-size="13.7" font-weight="normal" fill="#4D4D4D" text-anchor="start" stroke="#4D4D4D" stroke-width="0.25" textLength="7.56" lengthAdjust="spacingAndGlyphs" >3</text>
<line x1="558.93" y1="638.4" x2="558.93" y2="643.00" stroke="#333333" stroke-width="1.1"/>
<text x="555.44" y="656.00" font-size="13.7" font-weight="normal" fill="#4D4D4D" text-anchor="start" stroke="#4D4D4D" stroke-width="0.25" textLength="7.10" lengthAdjust="spacingAndGlyphs" >4</text>
<line x1="573.20" y1="638.4" x2="573.20" y2="643.00" stroke="#333333" stroke-width="1.1"/>
<text x="569.57" y="656.00" font-size="13.7" font-weight="normal" fill="#4D4D4D" text-anchor="start" stroke="#4D4D4D" stroke-width="0.25" textLength="7.30" lengthAdjust="spacingAndGlyphs" >5</text>
<line x1="587.47" y1="638.4" x2="587.47" y2="643.00" stroke="#333333" stroke-width="1.1"/>
<text x="584.16" y="656.00" font-size="13.7" font-weight="normal" fill="#4D4D4D" text-anchor="start" stroke="#4D4D4D" stroke-width="0.25" textLength="6.70" lengthAdjust="spacingAndGlyphs" >6</text>
<line x1="55.00" y1="428.4" x2="55.00" y2="638.9499999999999" stroke="#333333" stroke-width="1.1"/>
<line x1="50.60" y1="629.30" x2="55.00" y2="629.30" stroke="#333333" stroke-width="1.1"/>
<text x="47.39" y="634.00" font-size="13.6" font-weight="normal" fill="#4D4D4D" text-anchor="end" stroke="#4D4D4D" stroke-width="0.25" textLength="16.89" lengthAdjust="spacingAndGlyphs" >0.0</text>
<line x1="50.60" y1="603.87" x2="55.00" y2="603.87" stroke="#333333" stroke-width="1.1"/>
<text x="47.39" y="608.57" font-size="13.6" font-weight="normal" fill="#4D4D4D" text-anchor="end" stroke="#4D4D4D" stroke-width="0.25" textLength="16.92" lengthAdjust="spacingAndGlyphs" >0.1</text>
<line x1="50.60" y1="578.44" x2="55.00" y2="578.44" stroke="#333333" stroke-width="1.1"/>
<text x="47.44" y="583.14" font-size="13.6" font-weight="normal" fill="#4D4D4D" text-anchor="end" stroke="#4D4D4D" stroke-width="0.25" textLength="16.95" lengthAdjust="spacingAndGlyphs" >0.2</text>
<line x1="50.60" y1="553.01" x2="55.00" y2="553.01" stroke="#333333" stroke-width="1.1"/>
<text x="47.90" y="557.71" font-size="13.6" font-weight="normal" fill="#4D4D4D" text-anchor="end" stroke="#4D4D4D" stroke-width="0.25" textLength="17.93" lengthAdjust="spacingAndGlyphs" >0.3</text>
<line x1="50.60" y1="527.58" x2="55.00" y2="527.58" stroke="#333333" stroke-width="1.1"/>
<text x="47.16" y="532.28" font-size="13.6" font-weight="normal" fill="#4D4D4D" text-anchor="end" stroke="#4D4D4D" stroke-width="0.25" textLength="16.61" lengthAdjust="spacingAndGlyphs" >0.4</text>
<line x1="50.60" y1="502.15" x2="55.00" y2="502.15" stroke="#333333" stroke-width="1.1"/>
<text x="47.80" y="506.85" font-size="13.6" font-weight="normal" fill="#4D4D4D" text-anchor="end" stroke="#4D4D4D" stroke-width="0.25" textLength="17.82" lengthAdjust="spacingAndGlyphs" >0.5</text>
<line x1="50.60" y1="476.72" x2="55.00" y2="476.72" stroke="#333333" stroke-width="1.1"/>
<text x="47.81" y="481.42" font-size="13.6" font-weight="normal" fill="#4D4D4D" text-anchor="end" stroke="#4D4D4D" stroke-width="0.25" textLength="17.83" lengthAdjust="spacingAndGlyphs" >0.6</text>
<line x1="50.60" y1="451.29" x2="55.00" y2="451.29" stroke="#333333" stroke-width="1.1"/>
<text x="47.40" y="455.99" font-size="13.6" font-weight="normal" fill="#4D4D4D" text-anchor="end" stroke="#4D4D4D" stroke-width="0.25" textLength="16.93" lengthAdjust="spacingAndGlyphs" >0.7</text>
<text x="184.48" y="674.90" font-size="16.2" font-weight="normal" fill="#000" text-anchor="start" stroke="#000" stroke-width="0.25" textLength="278.64" lengthAdjust="spacingAndGlyphs" >Curiosity Rating (Individual mean-centred)</text>
<text x="0" y="0" font-size="16.3" fill="#000" stroke="#000" stroke-width="0.25" transform="translate(23.1,558.6) rotate(-90)" textLength="50.6" lengthAdjust="spacingAndGlyphs">Path RE</text>
<text x="616.67" y="495.10" font-size="15.0" font-weight="normal" fill="#000" text-anchor="start" stroke="#000" stroke-width="0.25" textLength="58.95" lengthAdjust="spacingAndGlyphs" >Intervals</text>
<rect x="617.9" y="506.20" width="26.8" height="26.5" fill="rgb(235,244,251)" fill-opacity="1"/>
<line x1="620.9" y1="519.45" x2="642.1" y2="519.45" stroke="#7EC8E3" stroke-width="1.4"/>
<text x="652.60" y="524.05" font-size="14.4" font-weight="normal" fill="#000" text-anchor="start" stroke="#000" stroke-width="0.25" textLength="26.15" lengthAdjust="spacingAndGlyphs" >93%</text>
<rect x="617.9" y="532.70" width="26.8" height="26.5" fill="rgb(223,239,246)" fill-opacity="1"/>
<line x1="620.9" y1="545.95" x2="642.1" y2="545.95" stroke="#7EC8E3" stroke-width="1.4"/>
<text x="652.59" y="550.55" font-size="14.4" font-weight="normal" fill="#000" text-anchor="start" stroke="#000" stroke-width="0.25" textLength="26.66" lengthAdjust="spacingAndGlyphs" >79%</text>
<rect x="617.9" y="559.20" width="26.8" height="26.5" fill="rgb(201,231,242)" fill-opacity="1"/>
<line x1="620.9" y1="572.45" x2="642.1" y2="572.45" stroke="#7EC8E3" stroke-width="1.4"/>
<text x="653.23" y="577.05" font-size="14.4" font-weight="normal" fill="#000" text-anchor="start" stroke="#000" stroke-width="0.25" textLength="25.42" lengthAdjust="spacingAndGlyphs" >61%</text>
</svg>
</body></html>
